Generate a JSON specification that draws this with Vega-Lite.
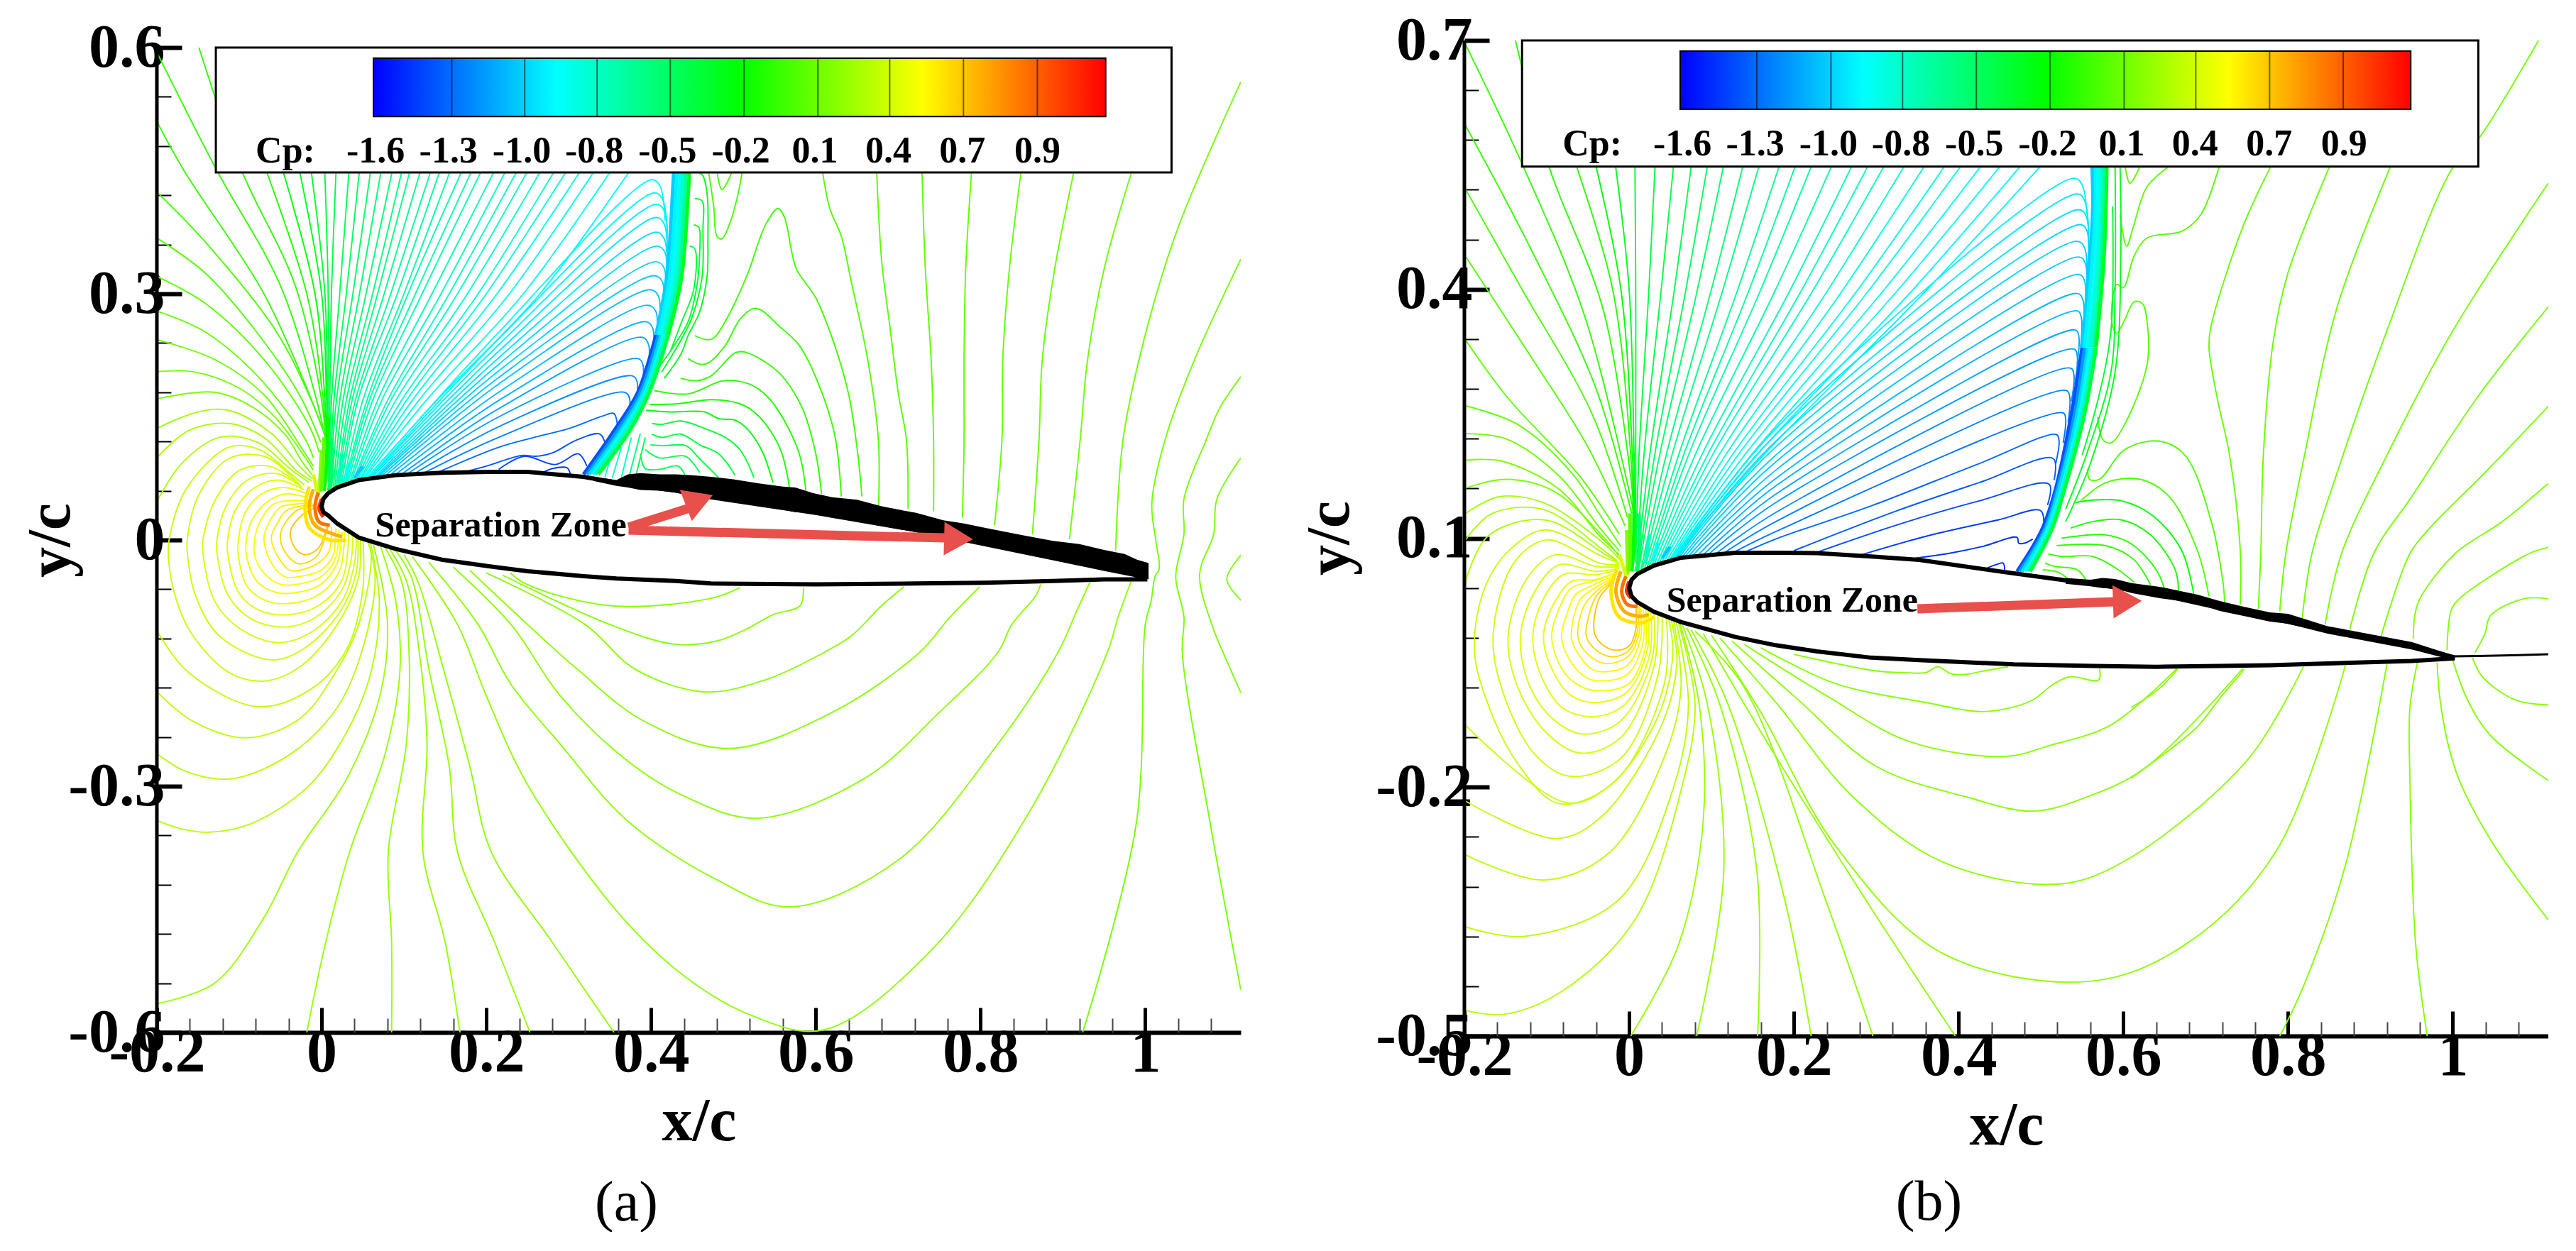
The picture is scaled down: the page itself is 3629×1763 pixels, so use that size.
{"$schema":"https://vega.github.io/schema/vega-lite/v6.json","background":"white","padding":{"left":28,"top":14,"right":0,"bottom":0},"bounds":"flush","spacing":315,
"config":{"view":{"stroke":null},"axis":{"labelFont":"Liberation Serif","labelFontWeight":"bold","labelFontSize":86,"labelColor":"black","titleFont":"Liberation Serif","titleFontWeight":"bold","titleFontSize":86,"titleColor":"black","grid":false,"labelOverlap":false,"labelBound":false,"labelFlush":false,"tickColor":"black","domainColor":"black"}},
"datasets":{
"legendA":[{"x":0.0655,"y":0.4738,"t":"-1.6"},{"x":0.154,"y":0.4738,"t":"-1.3"},{"x":0.243,"y":0.4738,"t":"-1.0"},{"x":0.331,"y":0.4738,"t":"-0.8"},{"x":0.42,"y":0.4738,"t":"-0.5"},{"x":0.509,"y":0.4738,"t":"-0.2"},{"x":0.599,"y":0.4738,"t":"0.1"},{"x":0.688,"y":0.4738,"t":"0.4"},{"x":0.778,"y":0.4738,"t":"0.7"},{"x":0.869,"y":0.4738,"t":"0.9"},{"x":-0.044,"y":0.4738,"t":"Cp:"}],
"legendB":[{"x":0.0647,"y":0.5751,"t":"-1.6"},{"x":0.153,"y":0.5751,"t":"-1.3"},{"x":0.242,"y":0.5751,"t":"-1.0"},{"x":0.33,"y":0.5751,"t":"-0.8"},{"x":0.419,"y":0.5751,"t":"-0.5"},{"x":0.508,"y":0.5751,"t":"-0.2"},{"x":0.598,"y":0.5751,"t":"0.1"},{"x":0.687,"y":0.5751,"t":"0.4"},{"x":0.777,"y":0.5751,"t":"0.7"},{"x":0.868,"y":0.5751,"t":"0.9"},{"x":-0.0448,"y":0.5751,"t":"Cp:"}],
"airfoilA":[{"x":0,"y":0.041,"y2":0.041},{"x":0.002,"y":0.05,"y2":0.034},{"x":0.008,"y":0.057,"y2":0.03},{"x":0.019,"y":0.064,"y2":0.02},{"x":0.045,"y":0.073,"y2":0.003},{"x":0.09,"y":0.079,"y2":-0.011},{"x":0.146,"y":0.082,"y2":-0.024},{"x":0.203,"y":0.083,"y2":-0.032},{"x":0.25,"y":0.083,"y2":-0.038},{"x":0.318,"y":0.077,"y2":-0.044},{"x":0.358,"y":0.07,"y2":-0.047},{"x":0.43,"y":0.06,"y2":-0.05},{"x":0.473,"y":0.052,"y2":-0.053},{"x":0.6,"y":0.033,"y2":-0.054},{"x":0.722,"y":0.012,"y2":-0.053},{"x":0.805,"y":-0.005,"y2":-0.052},{"x":0.888,"y":-0.022,"y2":-0.05},{"x":0.95,"y":-0.035,"y2":-0.048},{"x":1,"y":-0.045,"y2":-0.048}],
"bandA":[{"x":0.33,"y":0.077,"y2":0.072},{"x":0.358,"y":0.073,"y2":0.066},{"x":0.372,"y":0.08,"y2":0.064},{"x":0.387,"y":0.0815,"y2":0.061},{"x":0.41,"y":0.08,"y2":0.06},{"x":0.43,"y":0.08,"y2":0.058},{"x":0.45,"y":0.079,"y2":0.056},{"x":0.473,"y":0.077,"y2":0.051},{"x":0.5,"y":0.074,"y2":0.047},{"x":0.531,"y":0.069,"y2":0.041},{"x":0.56,"y":0.065,"y2":0.037},{"x":0.575,"y":0.064,"y2":0.034},{"x":0.597,"y":0.057,"y2":0.033},{"x":0.62,"y":0.052,"y2":0.027},{"x":0.65,"y":0.049,"y2":0.023},{"x":0.68,"y":0.041,"y2":0.017},{"x":0.722,"y":0.033,"y2":0.0095},{"x":0.755,"y":0.024,"y2":0.004},{"x":0.78,"y":0.02,"y2":0},{"x":0.805,"y":0.015,"y2":-0.005},{"x":0.85,"y":0.006,"y2":-0.014},{"x":0.888,"y":-0.001,"y2":-0.024},{"x":0.92,"y":-0.005,"y2":-0.03},{"x":0.95,"y":-0.012,"y2":-0.037},{"x":0.975,"y":-0.017,"y2":-0.041},{"x":0.99,"y":-0.024,"y2":-0.044},{"x":1.004,"y":-0.028,"y2":-0.048}],
"airfoilB":[{"x":0,"y":0.04,"y2":0.04},{"x":0.003,"y":0.05,"y2":0.03},{"x":0.01,"y":0.057,"y2":0.023},{"x":0.03,"y":0.067,"y2":0.0115},{"x":0.063,"y":0.0765,"y2":-0.001},{"x":0.129,"y":0.0825,"y2":-0.019},{"x":0.178,"y":0.0825,"y2":-0.029},{"x":0.228,"y":0.082,"y2":-0.0364},{"x":0.294,"y":0.078,"y2":-0.044},{"x":0.352,"y":0.0739,"y2":-0.047},{"x":0.467,"y":0.0576,"y2":-0.052},{"x":0.563,"y":0.0449,"y2":-0.054},{"x":0.64,"y":0.033,"y2":-0.055},{"x":0.717,"y":0.016,"y2":-0.054},{"x":0.778,"y":0.004,"y2":-0.053},{"x":0.848,"y":-0.011,"y2":-0.051},{"x":0.95,"y":-0.03,"y2":-0.048},{"x":1,"y":-0.043,"y2":-0.045}],
"bandB":[{"x":0.53,"y":0.052,"y2":0.045},{"x":0.56,"y":0.05,"y2":0.042},{"x":0.575,"y":0.052,"y2":0.04},{"x":0.59,"y":0.0508,"y2":0.0397},{"x":0.61,"y":0.046,"y2":0.034},{"x":0.644,"y":0.0415,"y2":0.0277},{"x":0.69,"y":0.032,"y2":0.0215},{"x":0.717,"y":0.0243,"y2":0.0123},{"x":0.746,"y":0.0175,"y2":0.0064},{"x":0.778,"y":0.0106,"y2":-0.0005},{"x":0.8,"y":0.009,"y2":-0.003},{"x":0.848,"y":-0.006,"y2":-0.015},{"x":0.95,"y":-0.025,"y2":-0.034},{"x":1,"y":-0.041,"y2":-0.047}],
"wakeB":[{"x":1,"y":-0.0425},{"x":1.03,"y":-0.042},{"x":1.08,"y":-0.041},{"x":1.116,"y":-0.0398}],
"shaftA":[{"v":1,"x":0.3727,"y":0.0156},{"v":1,"x":0.4446,"y":0.0383},{"v":2,"x":0.3727,"y":0.012},{"v":2,"x":0.757,"y":0.0025}],
"headA":[{"x":0.4586,"y":0.0484,"a":69},{"x":0.7733,"y":0.0013,"a":91.5}],
"shaftB":[{"v":1,"x":0.35,"y":0.0149},{"v":1,"x":0.59,"y":0.0235}],
"headB":[{"x":0.605,"y":0.024,"a":88}],
"shockA":[
{"v":-1.5,"x":0.318,"y":0.08},{"v":-1.5,"x":0.355,"y":0.133},{"v":-1.5,"x":0.384,"y":0.18},{"v":-1.5,"x":0.406,"y":0.25},
{"v":-1.3,"x":0.322,"y":0.08},{"v":-1.3,"x":0.359,"y":0.133},{"v":-1.3,"x":0.387,"y":0.18},{"v":-1.3,"x":0.409,"y":0.25},
{"v":-1.05,"x":0.325,"y":0.08},{"v":-1.05,"x":0.363,"y":0.133},{"v":-1.05,"x":0.39,"y":0.18},{"v":-1.05,"x":0.412,"y":0.25},
{"v":-0.86,"x":0.329,"y":0.08},{"v":-0.86,"x":0.366,"y":0.133},{"v":-0.86,"x":0.393,"y":0.18},{"v":-0.86,"x":0.415,"y":0.25},
{"v":-0.55,"x":0.332,"y":0.08},{"v":-0.55,"x":0.37,"y":0.133},{"v":-0.55,"x":0.395,"y":0.18},{"v":-0.55,"x":0.418,"y":0.25},
{"v":-0.25,"x":0.336,"y":0.08},{"v":-0.25,"x":0.374,"y":0.133},{"v":-0.25,"x":0.398,"y":0.18},{"v":-0.25,"x":0.421,"y":0.25},
{"v":-1.1,"x":0.406,"y":0.25},{"v":-1.1,"x":0.419,"y":0.32},{"v":-1.1,"x":0.426,"y":0.42},{"v":-1.1,"x":0.428,"y":0.46},
{"v":-0.95,"x":0.409,"y":0.25},{"v":-0.95,"x":0.4225,"y":0.32},{"v":-0.95,"x":0.43,"y":0.42},{"v":-0.95,"x":0.432,"y":0.46},
{"v":-0.85,"x":0.412,"y":0.25},{"v":-0.85,"x":0.426,"y":0.32},{"v":-0.85,"x":0.434,"y":0.42},{"v":-0.85,"x":0.436,"y":0.46},
{"v":-0.65,"x":0.415,"y":0.25},{"v":-0.65,"x":0.43,"y":0.32},{"v":-0.65,"x":0.437,"y":0.42},{"v":-0.65,"x":0.439,"y":0.46},
{"v":-0.45,"x":0.418,"y":0.25},{"v":-0.45,"x":0.4335,"y":0.32},{"v":-0.45,"x":0.441,"y":0.42},{"v":-0.45,"x":0.443,"y":0.46},
{"v":-0.22,"x":0.421,"y":0.25},{"v":-0.22,"x":0.437,"y":0.32},{"v":-0.22,"x":0.445,"y":0.42},{"v":-0.22,"x":0.447,"y":0.46},
{"v":-0.2,"x":0.008,"y":0.15},{"v":-0.2,"x":0.005,"y":0.08},{"v":-0.2,"x":0.003,"y":0.06},
{"v":0.0,"x":0,"y":0.11},{"v":0.0,"x":-0.002,"y":0.07},{"v":0.0,"x":-0.002,"y":0.058},
{"v":0.3,"x":-0.01,"y":0.08},{"v":0.3,"x":-0.006,"y":0.062},{"v":0.3,"x":-0.003,"y":0.052},
{"v":-0.1,"x":0.003,"y":0.125},{"v":-0.1,"x":0.001,"y":0.075},{"v":-0.1,"x":0,"y":0.06},
{"v":-0.35,"x":0.012,"y":0.125},{"v":-0.35,"x":0.012,"y":0.075},{"v":-0.35,"x":0.008,"y":0.06},
{"v":-0.6,"x":0.025,"y":0.105},{"v":-0.6,"x":0.02,"y":0.07},
{"v":-0.87,"x":0.035,"y":0.095},{"v":-0.87,"x":0.028,"y":0.072},
{"v":-1.12,"x":0.05,"y":0.09},{"v":-1.12,"x":0.04,"y":0.076},
{"v":0.6,"x":-0.015,"y":0.065},{"v":0.6,"x":-0.02,"y":0.04},{"v":0.6,"x":-0.015,"y":0.015},{"v":0.6,"x":0.01,"y":0},{"v":0.6,"x":0.03,"y":0},
{"v":0.8,"x":-0.01,"y":0.062},{"v":0.8,"x":-0.015,"y":0.04},{"v":0.8,"x":-0.008,"y":0.018},{"v":0.8,"x":0.012,"y":0.008},{"v":0.8,"x":0.025,"y":0.004},
{"v":1.0,"x":-0.004,"y":0.058},{"v":1.0,"x":-0.008,"y":0.04},{"v":1.0,"x":-0.003,"y":0.022},{"v":1.0,"x":0.01,"y":0.018},
{"v":1.15,"x":0,"y":0.05},{"v":1.15,"x":-0.003,"y":0.038},{"v":1.15,"x":0.002,"y":0.028}],
"shockB":[
{"v":-1.5,"x":0.471,"y":0.06},{"v":-1.5,"x":0.501,"y":0.11},{"v":-1.5,"x":0.518,"y":0.16},{"v":-1.5,"x":0.537,"y":0.25},{"v":-1.5,"x":0.55,"y":0.33},
{"v":-1.3,"x":0.474,"y":0.06},{"v":-1.3,"x":0.504,"y":0.11},{"v":-1.3,"x":0.52,"y":0.16},{"v":-1.3,"x":0.541,"y":0.25},{"v":-1.3,"x":0.553,"y":0.33},
{"v":-1.05,"x":0.477,"y":0.06},{"v":-1.05,"x":0.506,"y":0.11},{"v":-1.05,"x":0.522,"y":0.16},{"v":-1.05,"x":0.544,"y":0.25},{"v":-1.05,"x":0.557,"y":0.33},
{"v":-0.86,"x":0.481,"y":0.06},{"v":-0.86,"x":0.508,"y":0.11},{"v":-0.86,"x":0.525,"y":0.16},{"v":-0.86,"x":0.547,"y":0.25},{"v":-0.86,"x":0.56,"y":0.33},
{"v":-0.55,"x":0.484,"y":0.06},{"v":-0.55,"x":0.511,"y":0.11},{"v":-0.55,"x":0.527,"y":0.16},{"v":-0.55,"x":0.55,"y":0.25},{"v":-0.55,"x":0.564,"y":0.33},
{"v":-0.25,"x":0.487,"y":0.06},{"v":-0.25,"x":0.513,"y":0.11},{"v":-0.25,"x":0.529,"y":0.16},{"v":-0.25,"x":0.553,"y":0.25},{"v":-0.25,"x":0.567,"y":0.33},
{"v":-1.1,"x":0.55,"y":0.33},{"v":-1.1,"x":0.559,"y":0.43},{"v":-1.1,"x":0.563,"y":0.5},{"v":-1.1,"x":0.562,"y":0.55},
{"v":-0.95,"x":0.553,"y":0.33},{"v":-0.95,"x":0.562,"y":0.43},{"v":-0.95,"x":0.566,"y":0.5},{"v":-0.95,"x":0.566,"y":0.55},
{"v":-0.85,"x":0.557,"y":0.33},{"v":-0.85,"x":0.566,"y":0.43},{"v":-0.85,"x":0.569,"y":0.5},{"v":-0.85,"x":0.569,"y":0.55},
{"v":-0.65,"x":0.56,"y":0.33},{"v":-0.65,"x":0.569,"y":0.43},{"v":-0.65,"x":0.573,"y":0.5},{"v":-0.65,"x":0.573,"y":0.55},
{"v":-0.45,"x":0.564,"y":0.33},{"v":-0.45,"x":0.573,"y":0.43},{"v":-0.45,"x":0.576,"y":0.5},{"v":-0.45,"x":0.577,"y":0.55},
{"v":-0.22,"x":0.567,"y":0.33},{"v":-0.22,"x":0.576,"y":0.43},{"v":-0.22,"x":0.579,"y":0.5},{"v":-0.22,"x":0.58,"y":0.55},
{"v":-0.2,"x":0.006,"y":0.16},{"v":-0.2,"x":0.005,"y":0.08},{"v":-0.2,"x":0.003,"y":0.06},
{"v":0.0,"x":-0.003,"y":0.11},{"v":0.0,"x":-0.002,"y":0.07},{"v":0.0,"x":-0.002,"y":0.056},
{"v":0.3,"x":-0.012,"y":0.08},{"v":0.3,"x":-0.006,"y":0.062},{"v":0.3,"x":-0.003,"y":0.052},
{"v":-0.1,"x":0.001,"y":0.13},{"v":-0.1,"x":0.001,"y":0.075},{"v":-0.1,"x":0,"y":0.06},
{"v":-0.35,"x":0.012,"y":0.13},{"v":-0.35,"x":0.012,"y":0.075},{"v":-0.35,"x":0.008,"y":0.06},
{"v":-0.6,"x":0.025,"y":0.105},{"v":-0.6,"x":0.02,"y":0.07},
{"v":-0.87,"x":0.035,"y":0.095},{"v":-0.87,"x":0.028,"y":0.072},
{"v":-1.12,"x":0.05,"y":0.09},{"v":-1.12,"x":0.04,"y":0.076},
{"v":0.6,"x":-0.015,"y":0.062},{"v":0.6,"x":-0.022,"y":0.035},{"v":0.6,"x":-0.012,"y":0.005},{"v":0.6,"x":0.015,"y":-0.002},{"v":0.6,"x":0.03,"y":0.005},
{"v":0.8,"x":-0.01,"y":0.06},{"v":0.8,"x":-0.016,"y":0.035},{"v":0.8,"x":-0.006,"y":0.012},{"v":0.8,"x":0.012,"y":0.006},{"v":0.8,"x":0.024,"y":0.008},
{"v":1.0,"x":-0.004,"y":0.054},{"v":1.0,"x":-0.009,"y":0.035},{"v":1.0,"x":-0.002,"y":0.02},{"v":1.0,"x":0.01,"y":0.018},
{"v":1.15,"x":0,"y":0.048},{"v":1.15,"x":-0.003,"y":0.036},{"v":1.15,"x":0.002,"y":0.028}],
"a":[
{"v":-0.17,"x":-0.2,"y":0.594},{"v":-0.17,"x":-0.127,"y":0.45},{"v":-0.17,"x":-0.05,"y":0.31},{"v":-0.17,"x":-0.006,"y":0.17},{"v":-0.17,"x":0.004,"y":0.125},
{"v":-0.165,"x":-0.2,"y":0.51},{"v":-0.165,"x":-0.167,"y":0.45},{"v":-0.165,"x":-0.07,"y":0.3},{"v":-0.165,"x":-0.012,"y":0.17},{"v":-0.165,"x":0.003,"y":0.13},
{"v":-0.175,"x":-0.149,"y":0.6},{"v":-0.175,"x":-0.097,"y":0.45},{"v":-0.175,"x":-0.032,"y":0.31},{"v":-0.175,"x":0,"y":0.17},{"v":-0.175,"x":0.005,"y":0.12},
{"v":-0.14,"x":-0.2,"y":0.424},{"v":-0.14,"x":-0.142,"y":0.364},{"v":-0.14,"x":-0.055,"y":0.254},{"v":-0.14,"x":-0.009,"y":0.162},{"v":-0.14,"x":0.005,"y":0.125},
{"v":-0.12,"x":-0.2,"y":0.368},{"v":-0.12,"x":-0.142,"y":0.326},{"v":-0.12,"x":-0.084,"y":0.26},{"v":-0.12,"x":-0.027,"y":0.177},{"v":-0.12,"x":-0.001,"y":0.119},
{"v":-0.1,"x":-0.2,"y":0.321},{"v":-0.1,"x":-0.142,"y":0.289},{"v":-0.1,"x":-0.07,"y":0.22},{"v":-0.1,"x":-0.015,"y":0.139},{"v":-0.1,"x":-0.003,"y":0.107},
{"v":-0.08,"x":-0.2,"y":0.279},{"v":-0.08,"x":-0.142,"y":0.254},{"v":-0.08,"x":-0.078,"y":0.2},{"v":-0.08,"x":-0.021,"y":0.125},{"v":-0.08,"x":-0.01,"y":0.1},
{"v":-0.06,"x":-0.2,"y":0.244},{"v":-0.06,"x":-0.13,"y":0.22},{"v":-0.06,"x":-0.07,"y":0.177},{"v":-0.06,"x":-0.021,"y":0.107},{"v":-0.06,"x":-0.01,"y":0.09},
{"v":-0.04,"x":-0.2,"y":0.205},{"v":-0.04,"x":-0.156,"y":0.205},{"v":-0.04,"x":-0.1,"y":0.185},{"v":-0.04,"x":-0.055,"y":0.148},{"v":-0.04,"x":-0.021,"y":0.102},{"v":-0.04,"x":-0.01,"y":0.085},
{"v":-0.02,"x":-0.2,"y":0.172},{"v":-0.02,"x":-0.13,"y":0.18},{"v":-0.02,"x":-0.084,"y":0.162},{"v":-0.02,"x":-0.044,"y":0.128},{"v":-0.02,"x":-0.024,"y":0.096},{"v":-0.02,"x":-0.012,"y":0.08},
{"v":0.1,"x":-0.2,"y":0.136},{"v":0.1,"x":-0.15,"y":0.156},{"v":0.1,"x":-0.113,"y":0.158},{"v":0.1,"x":-0.061,"y":0.13},{"v":0.1,"x":-0.027,"y":0.09},{"v":0.1,"x":-0.012,"y":0.075},
{"v":0.12,"x":-0.2,"y":0.1},{"v":0.12,"x":-0.162,"y":0.133},{"v":0.12,"x":-0.113,"y":0.142},{"v":0.12,"x":-0.07,"y":0.125},{"v":0.12,"x":-0.03,"y":0.084},{"v":0.12,"x":-0.012,"y":0.072},
{"v":0.14,"x":-0.2,"y":0.047},{"v":0.14,"x":-0.17,"y":0.093},{"v":0.14,"x":-0.124,"y":0.125},{"v":0.14,"x":-0.078,"y":0.119},{"v":0.14,"x":-0.035,"y":0.084},{"v":0.14,"x":-0.015,"y":0.07},
{"v":-0.18,"x":-0.071,"y":0.46},{"v":-0.18,"x":-0.018,"y":0.3},{"v":-0.18,"x":0.002,"y":0.17},{"v":-0.18,"x":0.006,"y":0.11},
{"v":-0.2,"x":-0.05,"y":0.46},{"v":-0.2,"x":-0.008,"y":0.3},{"v":-0.2,"x":0.004,"y":0.17},{"v":-0.2,"x":0.007,"y":0.1},
{"v":-0.22,"x":-0.029,"y":0.46},{"v":-0.22,"x":0,"y":0.3},{"v":-0.22,"x":0.006,"y":0.17},{"v":-0.22,"x":0.008,"y":0.09},
{"v":-0.24,"x":-0.014,"y":0.46},{"v":-0.24,"x":0.004,"y":0.3},{"v":-0.24,"x":0.007,"y":0.17},{"v":-0.24,"x":0.008,"y":0.08},
{"v":-0.26,"x":0.0035,"y":0.46},{"v":-0.26,"x":0.008,"y":0.3},{"v":-0.26,"x":0.008,"y":0.17},{"v":-0.26,"x":0.008,"y":0.07},
{"v":-0.28,"x":0.018,"y":0.46},{"v":-0.28,"x":0.012,"y":0.3},{"v":-0.28,"x":0.01,"y":0.17},{"v":-0.28,"x":0.009,"y":0.065},
{"v":-0.3,"x":0.034,"y":0.46},{"v":-0.3,"x":0.022,"y":0.3},{"v":-0.3,"x":0.012,"y":0.17},{"v":-0.3,"x":0.009,"y":0.06},
{"v":-0.32,"x":0.047,"y":0.46},{"v":-0.32,"x":0.03,"y":0.3},{"v":-0.32,"x":0.015,"y":0.17},{"v":-0.32,"x":0.01,"y":0.058},
{"v":-0.34,"x":0.061,"y":0.46},{"v":-0.34,"x":0.038,"y":0.3},{"v":-0.34,"x":0.018,"y":0.17},{"v":-0.34,"x":0.01,"y":0.058},
{"v":-0.36,"x":0.074,"y":0.46},{"v":-0.36,"x":0.046,"y":0.3},{"v":-0.36,"x":0.022,"y":0.17},{"v":-0.36,"x":0.012,"y":0.06},
{"v":-0.38,"x":0.088,"y":0.46},{"v":-0.38,"x":0.054,"y":0.3},{"v":-0.38,"x":0.026,"y":0.17},{"v":-0.38,"x":0.014,"y":0.06},
{"v":-0.4,"x":0.1,"y":0.46},{"v":-0.4,"x":0.062,"y":0.3},{"v":-0.4,"x":0.03,"y":0.17},{"v":-0.4,"x":0.016,"y":0.062},
{"v":-0.42,"x":0.11,"y":0.46},{"v":-0.42,"x":0.068,"y":0.3},{"v":-0.42,"x":0.034,"y":0.17},{"v":-0.42,"x":0.018,"y":0.063},
{"v":-0.44,"x":0.123,"y":0.46},{"v":-0.44,"x":0.076,"y":0.3},{"v":-0.44,"x":0.037,"y":0.17},{"v":-0.44,"x":0.02,"y":0.064},
{"v":-0.46,"x":0.136,"y":0.46},{"v":-0.46,"x":0.084,"y":0.3},{"v":-0.46,"x":0.041,"y":0.17},{"v":-0.46,"x":0.022,"y":0.065},
{"v":-0.48,"x":0.147,"y":0.46},{"v":-0.48,"x":0.092,"y":0.3},{"v":-0.48,"x":0.044,"y":0.17},{"v":-0.48,"x":0.024,"y":0.066},
{"v":-0.5,"x":0.16,"y":0.46},{"v":-0.5,"x":0.1,"y":0.3},{"v":-0.5,"x":0.05,"y":0.17},{"v":-0.5,"x":0.026,"y":0.067},
{"v":-0.52,"x":0.175,"y":0.46},{"v":-0.52,"x":0.105,"y":0.3},{"v":-0.52,"x":0.055,"y":0.17},{"v":-0.52,"x":0.028,"y":0.068},
{"v":-0.54,"x":0.187,"y":0.46},{"v":-0.54,"x":0.114,"y":0.3},{"v":-0.54,"x":0.058,"y":0.17},{"v":-0.54,"x":0.03,"y":0.069},
{"v":-0.56,"x":0.199,"y":0.46},{"v":-0.56,"x":0.122,"y":0.3},{"v":-0.56,"x":0.062,"y":0.17},{"v":-0.56,"x":0.032,"y":0.07},
{"v":-0.58,"x":0.215,"y":0.46},{"v":-0.58,"x":0.134,"y":0.3},{"v":-0.58,"x":0.068,"y":0.17},{"v":-0.58,"x":0.034,"y":0.07},
{"v":-0.6,"x":0.229,"y":0.46},{"v":-0.6,"x":0.145,"y":0.3},{"v":-0.6,"x":0.073,"y":0.17},{"v":-0.6,"x":0.036,"y":0.071},
{"v":-0.62,"x":0.243,"y":0.46},{"v":-0.62,"x":0.155,"y":0.3},{"v":-0.62,"x":0.08,"y":0.17},{"v":-0.62,"x":0.038,"y":0.071},
{"v":-0.64,"x":0.256,"y":0.46},{"v":-0.64,"x":0.165,"y":0.3},{"v":-0.64,"x":0.084,"y":0.17},{"v":-0.64,"x":0.04,"y":0.072},
{"v":-0.66,"x":0.272,"y":0.46},{"v":-0.66,"x":0.177,"y":0.3},{"v":-0.66,"x":0.09,"y":0.17},{"v":-0.66,"x":0.042,"y":0.072},
{"v":-0.69,"x":0.289,"y":0.46},{"v":-0.69,"x":0.19,"y":0.3},{"v":-0.69,"x":0.097,"y":0.17},{"v":-0.69,"x":0.044,"y":0.073},
{"v":-0.72,"x":0.304,"y":0.46},{"v":-0.72,"x":0.2,"y":0.3},{"v":-0.72,"x":0.103,"y":0.17},{"v":-0.72,"x":0.046,"y":0.073},
{"v":-0.75,"x":0.321,"y":0.46},{"v":-0.75,"x":0.213,"y":0.3},{"v":-0.75,"x":0.11,"y":0.17},{"v":-0.75,"x":0.048,"y":0.074},
{"v":-0.78,"x":0.338,"y":0.46},{"v":-0.78,"x":0.228,"y":0.3},{"v":-0.78,"x":0.118,"y":0.17},{"v":-0.78,"x":0.05,"y":0.074},
{"v":-0.82,"x":0.358,"y":0.46},{"v":-0.82,"x":0.245,"y":0.3},{"v":-0.82,"x":0.127,"y":0.17},{"v":-0.82,"x":0.052,"y":0.075},
{"v":-0.86,"x":0.381,"y":0.46},{"v":-0.86,"x":0.265,"y":0.3},{"v":-0.86,"x":0.14,"y":0.17},{"v":-0.86,"x":0.054,"y":0.075},
{"v":-0.9,"x":0.056,"y":0.076},{"v":-0.9,"x":0.215,"y":0.253},{"v":-0.9,"x":0.401,"y":0.439},{"v":-0.9,"x":0.411,"y":0.431},{"v":-0.9,"x":0.417,"y":0.389},
{"v":-0.93,"x":0.058,"y":0.076},{"v":-0.93,"x":0.215,"y":0.245},{"v":-0.93,"x":0.404,"y":0.423},{"v":-0.93,"x":0.414,"y":0.415},{"v":-0.93,"x":0.42,"y":0.373},
{"v":-0.96,"x":0.06,"y":0.077},{"v":-0.96,"x":0.215,"y":0.238},{"v":-0.96,"x":0.406,"y":0.409},{"v":-0.96,"x":0.416,"y":0.401},{"v":-0.96,"x":0.42,"y":0.359},
{"v":-0.99,"x":0.062,"y":0.077},{"v":-0.99,"x":0.215,"y":0.23},{"v":-0.99,"x":0.406,"y":0.393},{"v":-0.99,"x":0.416,"y":0.385},{"v":-0.99,"x":0.42,"y":0.343},
{"v":-1.02,"x":0.065,"y":0.077},{"v":-1.02,"x":0.215,"y":0.222},{"v":-1.02,"x":0.406,"y":0.375},{"v":-1.02,"x":0.416,"y":0.367},{"v":-1.02,"x":0.42,"y":0.325},
{"v":-1.05,"x":0.068,"y":0.078},{"v":-1.05,"x":0.215,"y":0.214},{"v":-1.05,"x":0.407,"y":0.358},{"v":-1.05,"x":0.417,"y":0.35},{"v":-1.05,"x":0.418,"y":0.308},
{"v":-1.08,"x":0.07,"y":0.078},{"v":-1.08,"x":0.215,"y":0.206},{"v":-1.08,"x":0.406,"y":0.339},{"v":-1.08,"x":0.416,"y":0.331},{"v":-1.08,"x":0.416,"y":0.289},
{"v":-1.11,"x":0.073,"y":0.078},{"v":-1.11,"x":0.215,"y":0.198},{"v":-1.11,"x":0.404,"y":0.322},{"v":-1.11,"x":0.414,"y":0.314},{"v":-1.11,"x":0.414,"y":0.272},
{"v":-1.14,"x":0.078,"y":0.079},{"v":-1.14,"x":0.215,"y":0.19},{"v":-1.14,"x":0.399,"y":0.305},{"v":-1.14,"x":0.409,"y":0.297},{"v":-1.14,"x":0.41,"y":0.255},
{"v":-1.17,"x":0.083,"y":0.079},{"v":-1.17,"x":0.215,"y":0.18},{"v":-1.17,"x":0.396,"y":0.286},{"v":-1.17,"x":0.406,"y":0.278},{"v":-1.17,"x":0.406,"y":0.24},
{"v":-1.2,"x":0.09,"y":0.08},{"v":-1.2,"x":0.215,"y":0.17},{"v":-1.2,"x":0.394,"y":0.266},{"v":-1.2,"x":0.402,"y":0.258},{"v":-1.2,"x":0.402,"y":0.226},
{"v":-1.24,"x":0.097,"y":0.08},{"v":-1.24,"x":0.215,"y":0.16},{"v":-1.24,"x":0.389,"y":0.247},{"v":-1.24,"x":0.397,"y":0.238},{"v":-1.24,"x":0.396,"y":0.205},
{"v":-1.28,"x":0.105,"y":0.081},{"v":-1.28,"x":0.215,"y":0.15},{"v":-1.28,"x":0.384,"y":0.221},{"v":-1.28,"x":0.39,"y":0.214},{"v":-1.28,"x":0.389,"y":0.185},
{"v":-1.32,"x":0.113,"y":0.081},{"v":-1.32,"x":0.215,"y":0.138},{"v":-1.32,"x":0.377,"y":0.2},{"v":-1.32,"x":0.383,"y":0.193},{"v":-1.32,"x":0.382,"y":0.17},
{"v":-1.37,"x":0.125,"y":0.082},{"v":-1.37,"x":0.215,"y":0.125},{"v":-1.37,"x":0.368,"y":0.18},{"v":-1.37,"x":0.374,"y":0.172},{"v":-1.37,"x":0.372,"y":0.15},
{"v":-1.43,"x":0.14,"y":0.082},{"v":-1.43,"x":0.215,"y":0.113},{"v":-1.43,"x":0.258,"y":0.125},{"v":-1.43,"x":0.301,"y":0.136},{"v":-1.43,"x":0.341,"y":0.151},{"v":-1.43,"x":0.355,"y":0.154},{"v":-1.43,"x":0.36,"y":0.13},
{"v":-1.5,"x":0.17,"y":0.082},{"v":-1.5,"x":0.2,"y":0.09},{"v":-1.5,"x":0.243,"y":0.103},{"v":-1.5,"x":0.26,"y":0.102},{"v":-1.5,"x":0.28,"y":0.106},{"v":-1.5,"x":0.31,"y":0.122},{"v":-1.5,"x":0.338,"y":0.129},{"v":-1.5,"x":0.345,"y":0.115},
{"v":-1.53,"x":0.215,"y":0.086},{"v":-1.53,"x":0.246,"y":0.102},{"v":-1.53,"x":0.284,"y":0.092},{"v":-1.53,"x":0.312,"y":0.105},{"v":-1.53,"x":0.322,"y":0.09},
{"v":-1.56,"x":0.27,"y":0.083},{"v":-1.56,"x":0.28,"y":0.087},{"v":-1.56,"x":0.298,"y":0.088},{"v":-1.56,"x":0.302,"y":0.08},
{"v":-0.201,"x":0.394,"y":0.158},{"v":-0.201,"x":0.422,"y":0.156},{"v":-0.201,"x":0.465,"y":0.156},{"v":-0.201,"x":0.482,"y":0.148},{"v":-0.201,"x":0.502,"y":0.146},{"v":-0.201,"x":0.516,"y":0.136},{"v":-0.201,"x":0.534,"y":0.11},{"v":-0.201,"x":0.548,"y":0.07},
{"v":-0.191,"x":0.398,"y":0.165},{"v":-0.191,"x":0.433,"y":0.166},{"v":-0.191,"x":0.473,"y":0.171},{"v":-0.191,"x":0.508,"y":0.166},{"v":-0.191,"x":0.525,"y":0.156},{"v":-0.191,"x":0.545,"y":0.133},{"v":-0.191,"x":0.559,"y":0.105},{"v":-0.191,"x":0.568,"y":0.064},
{"v":-0.181,"x":0.404,"y":0.182},{"v":-0.181,"x":0.445,"y":0.178},{"v":-0.181,"x":0.488,"y":0.194},{"v":-0.181,"x":0.519,"y":0.19},{"v":-0.181,"x":0.542,"y":0.174},{"v":-0.181,"x":0.562,"y":0.145},{"v":-0.181,"x":0.58,"y":0.105},{"v":-0.181,"x":0.588,"y":0.06},
{"v":-0.171,"x":0.436,"y":0.197},{"v":-0.171,"x":0.456,"y":0.194},{"v":-0.171,"x":0.473,"y":0.2},{"v":-0.171,"x":0.502,"y":0.228},{"v":-0.171,"x":0.514,"y":0.229},{"v":-0.171,"x":0.554,"y":0.205},{"v":-0.171,"x":0.583,"y":0.162},{"v":-0.171,"x":0.6,"y":0.105},{"v":-0.171,"x":0.607,"y":0.056},
{"v":-0.161,"x":0.445,"y":0.221},{"v":-0.161,"x":0.46,"y":0.214},{"v":-0.161,"x":0.47,"y":0.216},{"v":-0.161,"x":0.49,"y":0.237},{"v":-0.161,"x":0.508,"y":0.269},{"v":-0.161,"x":0.524,"y":0.282},{"v":-0.161,"x":0.534,"y":0.28},{"v":-0.161,"x":0.554,"y":0.262},{"v":-0.161,"x":0.58,"y":0.237},{"v":-0.161,"x":0.603,"y":0.191},{"v":-0.161,"x":0.623,"y":0.128},{"v":-0.161,"x":0.631,"y":0.053},
{"v":-0.151,"x":0.453,"y":0.249},{"v":-0.151,"x":0.468,"y":0.244},{"v":-0.151,"x":0.476,"y":0.246},{"v":-0.151,"x":0.49,"y":0.266},{"v":-0.151,"x":0.516,"y":0.321},{"v":-0.151,"x":0.539,"y":0.384},{"v":-0.151,"x":0.554,"y":0.404},{"v":-0.151,"x":0.562,"y":0.393},{"v":-0.151,"x":0.571,"y":0.35},{"v":-0.151,"x":0.577,"y":0.329},{"v":-0.151,"x":0.6,"y":0.295},{"v":-0.151,"x":0.623,"y":0.237},{"v":-0.151,"x":0.64,"y":0.177},{"v":-0.151,"x":0.651,"y":0.105},{"v":-0.151,"x":0.656,"y":0.053},
{"v":-0.141,"x":0.47,"y":0.447},{"v":-0.141,"x":0.476,"y":0.407},{"v":-0.141,"x":0.48,"y":0.37},{"v":-0.141,"x":0.486,"y":0.367},{"v":-0.141,"x":0.496,"y":0.387},{"v":-0.141,"x":0.505,"y":0.419},{"v":-0.141,"x":0.511,"y":0.45},
{"v":-0.131,"x":0.48,"y":0.45},{"v":-0.131,"x":0.486,"y":0.427},{"v":-0.131,"x":0.499,"y":0.45},
{"v":-0.121,"x":0.608,"y":0.45},{"v":-0.121,"x":0.617,"y":0.404},{"v":-0.121,"x":0.631,"y":0.37},{"v":-0.121,"x":0.643,"y":0.315},{"v":-0.121,"x":0.663,"y":0.22},{"v":-0.121,"x":0.676,"y":0.122},{"v":-0.121,"x":0.676,"y":0.035},
{"v":-0.211,"x":0.45,"y":0.45},{"v":-0.211,"x":0.462,"y":0.445},{"v":-0.211,"x":0.468,"y":0.422},{"v":-0.211,"x":0.469,"y":0.364},{"v":-0.211,"x":0.468,"y":0.321},{"v":-0.211,"x":0.459,"y":0.278},{"v":-0.211,"x":0.445,"y":0.249},{"v":-0.211,"x":0.436,"y":0.226},{"v":-0.211,"x":0.416,"y":0.197},
{"v":-0.221,"x":0.453,"y":0.416},{"v":-0.221,"x":0.462,"y":0.413},{"v":-0.221,"x":0.463,"y":0.378},{"v":-0.221,"x":0.462,"y":0.321},{"v":-0.221,"x":0.45,"y":0.272},{"v":-0.221,"x":0.436,"y":0.243},{"v":-0.221,"x":0.413,"y":0.205},
{"v":-0.231,"x":0.452,"y":0.384},{"v":-0.231,"x":0.458,"y":0.381},{"v":-0.231,"x":0.459,"y":0.35},{"v":-0.231,"x":0.456,"y":0.312},{"v":-0.231,"x":0.445,"y":0.266},{"v":-0.231,"x":0.43,"y":0.24},{"v":-0.231,"x":0.41,"y":0.211},
{"v":-0.241,"x":0.447,"y":0.358},{"v":-0.241,"x":0.453,"y":0.355},{"v":-0.241,"x":0.452,"y":0.306},{"v":-0.241,"x":0.436,"y":0.263},{"v":-0.241,"x":0.424,"y":0.231},
{"v":-0.251,"x":0.401,"y":0.142},{"v":-0.251,"x":0.413,"y":0.141},{"v":-0.251,"x":0.436,"y":0.145},{"v":-0.251,"x":0.465,"y":0.136},{"v":-0.251,"x":0.49,"y":0.125},{"v":-0.251,"x":0.508,"y":0.11},{"v":-0.251,"x":0.525,"y":0.076},
{"v":-0.261,"x":0.401,"y":0.129},{"v":-0.261,"x":0.413,"y":0.125},{"v":-0.261,"x":0.436,"y":0.129},{"v":-0.261,"x":0.459,"y":0.116},{"v":-0.261,"x":0.482,"y":0.105},{"v":-0.261,"x":0.502,"y":0.079},
{"v":-0.271,"x":0.399,"y":0.116},{"v":-0.271,"x":0.416,"y":0.115},{"v":-0.271,"x":0.442,"y":0.115},{"v":-0.271,"x":0.459,"y":0.099},{"v":-0.271,"x":0.482,"y":0.076},
{"v":-0.281,"x":0.393,"y":0.11},{"v":-0.281,"x":0.41,"y":0.1},{"v":-0.281,"x":0.442,"y":0.102},{"v":-0.281,"x":0.459,"y":0.082},
{"v":-0.291,"x":0.387,"y":0.105},{"v":-0.291,"x":0.393,"y":0.087},{"v":-0.291,"x":0.41,"y":0.086},{"v":-0.291,"x":0.433,"y":0.09},{"v":-0.291,"x":0.442,"y":0.077},
{"v":-0.801,"x":0.344,"y":0.076},{"v":-0.801,"x":0.352,"y":0.105},
{"v":-0.701,"x":0.353,"y":0.076},{"v":-0.701,"x":0.364,"y":0.113},
{"v":-0.601,"x":0.364,"y":0.076},{"v":-0.601,"x":0.376,"y":0.125},
{"v":-0.401,"x":0.373,"y":0.076},{"v":-0.401,"x":0.387,"y":0.13},
{"v":-0.301,"x":0.381,"y":0.076},{"v":-0.301,"x":0.393,"y":0.125},
{"v":-0.111,"x":0.674,"y":0.447},{"v":-0.111,"x":0.68,"y":0.34},{"v":-0.111,"x":0.69,"y":0.26},{"v":-0.111,"x":0.7,"y":0.18},{"v":-0.111,"x":0.71,"y":0.122},{"v":-0.111,"x":0.712,"y":0.038},
{"v":-0.101,"x":0.729,"y":0.447},{"v":-0.101,"x":0.733,"y":0.33},{"v":-0.101,"x":0.74,"y":0.22},{"v":-0.101,"x":0.743,"y":0.122},{"v":-0.101,"x":0.743,"y":0.035},
{"v":-0.091,"x":0.789,"y":0.447},{"v":-0.091,"x":0.782,"y":0.33},{"v":-0.091,"x":0.78,"y":0.22},{"v":-0.091,"x":0.78,"y":0.122},{"v":-0.091,"x":0.778,"y":0.027},
{"v":-0.081,"x":0.849,"y":0.447},{"v":-0.081,"x":0.835,"y":0.33},{"v":-0.081,"x":0.827,"y":0.22},{"v":-0.081,"x":0.826,"y":0.122},{"v":-0.081,"x":0.817,"y":0.018},
{"v":-0.071,"x":0.913,"y":0.447},{"v":-0.071,"x":0.89,"y":0.33},{"v":-0.071,"x":0.875,"y":0.22},{"v":-0.071,"x":0.871,"y":0.122},{"v":-0.071,"x":0.863,"y":0.007},
{"v":-0.061,"x":0.983,"y":0.447},{"v":-0.061,"x":0.95,"y":0.33},{"v":-0.061,"x":0.93,"y":0.22},{"v":-0.061,"x":0.921,"y":0.122},{"v":-0.061,"x":0.908,"y":0.001},
{"v":-0.051,"x":1.116,"y":0.558},{"v":-0.051,"x":1.04,"y":0.381},{"v":-0.051,"x":1,"y":0.25},{"v":-0.051,"x":0.973,"y":0.122},{"v":-0.051,"x":0.964,"y":-0.013},
{"v":-0.041,"x":1.116,"y":0.342},{"v":-0.041,"x":1.06,"y":0.22},{"v":-0.041,"x":1.024,"y":0.122},{"v":-0.041,"x":1.008,"y":0.045},{"v":-0.041,"x":1.013,"y":-0.002},{"v":-0.041,"x":1.017,"y":-0.035},{"v":-0.041,"x":1.012,"y":-0.044},{"v":-0.041,"x":1.007,"y":-0.075},{"v":-0.041,"x":1,"y":-0.103},{"v":-0.041,"x":0.989,"y":-0.346},{"v":-0.041,"x":0.924,"y":-0.6},
{"v":-0.031,"x":1.116,"y":0.199},{"v":-0.031,"x":1.09,"y":0.16},{"v":-0.031,"x":1.074,"y":0.122},{"v":-0.031,"x":1.047,"y":0.05},{"v":-0.031,"x":1.047,"y":0.007},{"v":-0.031,"x":1.037,"y":-0.045},{"v":-0.031,"x":1.047,"y":-0.094},{"v":-0.031,"x":1.045,"y":-0.137},{"v":-0.031,"x":1.079,"y":-0.346},{"v":-0.031,"x":1.116,"y":-0.548},
{"v":-0.021,"x":1.116,"y":0.1},{"v":-0.021,"x":1.087,"y":0.05},{"v":-0.021,"x":1.083,"y":0.007},{"v":-0.021,"x":1.066,"y":-0.042},{"v":-0.021,"x":1.083,"y":-0.109},{"v":-0.021,"x":1.095,"y":-0.138},{"v":-0.021,"x":1.116,"y":-0.186},
{"v":-0.011,"x":1.12,"y":-0.014},{"v":-0.011,"x":1.099,"y":-0.048},{"v":-0.011,"x":1.12,"y":-0.077},
{"v":0.01,"x":0.229,"y":-0.04},{"v":0.01,"x":0.249,"y":-0.054},{"v":0.01,"x":0.35,"y":-0.08},{"v":0.01,"x":0.473,"y":-0.071},{"v":0.01,"x":0.508,"y":-0.058},
{"v":0.015,"x":0.22,"y":-0.043},{"v":0.015,"x":0.35,"y":-0.103},{"v":0.015,"x":0.429,"y":-0.127},{"v":0.015,"x":0.48,"y":-0.123},{"v":0.015,"x":0.515,"y":-0.109},{"v":0.015,"x":0.548,"y":-0.091},{"v":0.015,"x":0.581,"y":-0.08},{"v":0.015,"x":0.585,"y":-0.058},
{"v":0.02,"x":0.2,"y":-0.04},{"v":0.02,"x":0.32,"y":-0.103},{"v":0.02,"x":0.38,"y":-0.157},{"v":0.02,"x":0.464,"y":-0.185},{"v":0.02,"x":0.54,"y":-0.17},{"v":0.02,"x":0.61,"y":-0.137},{"v":0.02,"x":0.643,"y":-0.117},{"v":0.02,"x":0.68,"y":-0.08},{"v":0.02,"x":0.707,"y":-0.057},
{"v":0.025,"x":0.18,"y":-0.037},{"v":0.025,"x":0.25,"y":-0.103},{"v":0.025,"x":0.31,"y":-0.157},{"v":0.025,"x":0.39,"y":-0.22},{"v":0.025,"x":0.494,"y":-0.254},{"v":0.025,"x":0.62,"y":-0.21},{"v":0.025,"x":0.726,"y":-0.137},{"v":0.025,"x":0.763,"y":-0.094},{"v":0.025,"x":0.799,"y":-0.057},
{"v":0.03,"x":0.16,"y":-0.033},{"v":0.03,"x":0.23,"y":-0.103},{"v":0.03,"x":0.29,"y":-0.19},{"v":0.03,"x":0.37,"y":-0.268},{"v":0.03,"x":0.44,"y":-0.312},{"v":0.03,"x":0.529,"y":-0.339},{"v":0.03,"x":0.66,"y":-0.29},{"v":0.03,"x":0.75,"y":-0.21},{"v":0.03,"x":0.821,"y":-0.137},{"v":0.03,"x":0.838,"y":-0.103},{"v":0.03,"x":0.867,"y":-0.068},{"v":0.03,"x":0.873,"y":-0.054},
{"v":0.035,"x":0.13,"y":-0.027},{"v":0.035,"x":0.19,"y":-0.103},{"v":0.035,"x":0.23,"y":-0.176},{"v":0.035,"x":0.29,"y":-0.249},{"v":0.035,"x":0.37,"y":-0.341},{"v":0.035,"x":0.48,"y":-0.414},{"v":0.035,"x":0.569,"y":-0.447},{"v":0.035,"x":0.7,"y":-0.39},{"v":0.035,"x":0.82,"y":-0.25},{"v":0.035,"x":0.894,"y":-0.137},{"v":0.035,"x":0.917,"y":-0.086},{"v":0.035,"x":0.933,"y":-0.051},
{"v":0.04,"x":0.11,"y":-0.02},{"v":0.04,"x":0.165,"y":-0.103},{"v":0.04,"x":0.2,"y":-0.19},{"v":0.04,"x":0.25,"y":-0.298},{"v":0.04,"x":0.36,"y":-0.454},{"v":0.04,"x":0.44,"y":-0.531},{"v":0.04,"x":0.519,"y":-0.578},{"v":0.04,"x":0.609,"y":-0.597},{"v":0.04,"x":0.74,"y":-0.5},{"v":0.04,"x":0.86,"y":-0.33},{"v":0.04,"x":0.954,"y":-0.137},{"v":0.04,"x":0.967,"y":-0.094},{"v":0.04,"x":0.983,"y":-0.05},
{"v":0.045,"x":0.355,"y":-0.6},{"v":0.045,"x":0.28,"y":-0.49},{"v":0.045,"x":0.206,"y":-0.38},{"v":0.045,"x":0.18,"y":-0.276},{"v":0.045,"x":0.149,"y":-0.161},{"v":0.045,"x":0.117,"y":-0.051},{"v":0.045,"x":0.1,"y":-0.018},
{"v":0.05,"x":0.253,"y":-0.6},{"v":0.05,"x":0.21,"y":-0.49},{"v":0.05,"x":0.165,"y":-0.38},{"v":0.05,"x":0.155,"y":-0.276},{"v":0.05,"x":0.131,"y":-0.161},{"v":0.05,"x":0.109,"y":-0.045},{"v":0.05,"x":0.09,"y":-0.013},
{"v":0.055,"x":0.168,"y":-0.6},{"v":0.055,"x":0.15,"y":-0.49},{"v":0.055,"x":0.123,"y":-0.38},{"v":0.055,"x":0.128,"y":-0.247},{"v":0.055,"x":0.118,"y":-0.132},{"v":0.055,"x":0.103,"y":-0.05},{"v":0.055,"x":0.082,"y":-0.01},
{"v":0.06,"x":0.085,"y":-0.6},{"v":0.06,"x":0.085,"y":-0.49},{"v":0.06,"x":0.081,"y":-0.38},{"v":0.06,"x":0.103,"y":-0.247},{"v":0.06,"x":0.106,"y":-0.132},{"v":0.06,"x":0.097,"y":-0.05},{"v":0.06,"x":0.075,"y":-0.006},
{"v":0.065,"x":-0.018,"y":-0.6},{"v":0.065,"x":0.005,"y":-0.49},{"v":0.065,"x":0.034,"y":-0.38},{"v":0.065,"x":0.077,"y":-0.261},{"v":0.065,"x":0.095,"y":-0.161},{"v":0.065,"x":0.09,"y":-0.074},{"v":0.065,"x":0.07,"y":-0.003},
{"v":0.075,"x":-0.2,"y":-0.565},{"v":0.075,"x":-0.13,"y":-0.54},{"v":0.075,"x":-0.07,"y":-0.46},{"v":0.075,"x":-0.029,"y":-0.38},{"v":0.075,"x":0.031,"y":-0.29},{"v":0.075,"x":0.071,"y":-0.189},{"v":0.075,"x":0.08,"y":-0.1},{"v":0.075,"x":0.062,"y":-0.002},
{"v":0.16,"x":-0.199,"y":-0.342},{"v":0.16,"x":-0.17,"y":-0.352},{"v":0.16,"x":-0.137,"y":-0.356},{"v":0.16,"x":-0.084,"y":-0.345},{"v":0.16,"x":-0.015,"y":-0.299},{"v":0.16,"x":0.031,"y":-0.233},{"v":0.16,"x":0.06,"y":-0.161},{"v":0.16,"x":0.07,"y":-0.074},{"v":0.16,"x":0.058,"y":0.003},
{"v":0.18,"x":-0.199,"y":-0.261},{"v":0.18,"x":-0.165,"y":-0.282},{"v":0.18,"x":-0.11,"y":-0.291},{"v":0.18,"x":-0.038,"y":-0.261},{"v":0.18,"x":0.019,"y":-0.204},{"v":0.18,"x":0.05,"y":-0.132},{"v":0.18,"x":0.065,"y":-0.045},{"v":0.18,"x":0.055,"y":0.003},
{"v":0.2,"x":-0.199,"y":-0.186},{"v":0.2,"x":-0.156,"y":-0.221},{"v":0.2,"x":-0.091,"y":-0.241},{"v":0.2,"x":-0.027,"y":-0.218},{"v":0.2,"x":0.017,"y":-0.161},{"v":0.2,"x":0.045,"y":-0.103},{"v":0.2,"x":0.06,"y":-0.016},{"v":0.2,"x":0.052,"y":0.004},
{"v":0.22,"x":-0.199,"y":-0.112},{"v":0.22,"x":-0.162,"y":-0.161},{"v":0.22,"x":-0.078,"y":-0.203},{"v":0.22,"x":-0.012,"y":-0.181},{"v":0.22,"x":0.031,"y":-0.132},{"v":0.22,"x":0.05,"y":-0.06},{"v":0.22,"x":0.05,"y":0.005},
{"v":0.24,"x":-0.021,"y":0.067},{"v":0.24,"x":-0.038,"y":0.081},{"v":0.24,"x":-0.075,"y":0.11},{"v":0.24,"x":-0.113,"y":0.113},{"v":0.24,"x":-0.165,"y":0.061},{"v":0.24,"x":-0.185,"y":0.001},{"v":0.24,"x":-0.186,"y":-0.022},{"v":0.24,"x":-0.176,"y":-0.074},{"v":0.24,"x":-0.156,"y":-0.117},{"v":0.24,"x":-0.113,"y":-0.161},{"v":0.24,"x":-0.071,"y":-0.172},{"v":0.24,"x":-0.027,"y":-0.155},{"v":0.24,"x":0.019,"y":-0.103},{"v":0.24,"x":0.045,"y":-0.045},{"v":0.24,"x":0.047,"y":0.006},
{"v":0.27,"x":-0.024,"y":0.064},{"v":0.27,"x":-0.035,"y":0.076},{"v":0.27,"x":-0.07,"y":0.102},{"v":0.27,"x":-0.113,"y":0.099},{"v":0.27,"x":-0.15,"y":0.053},{"v":0.27,"x":-0.163,"y":0.001},{"v":0.27,"x":-0.163,"y":-0.016},{"v":0.27,"x":-0.153,"y":-0.068},{"v":0.27,"x":-0.124,"y":-0.117},{"v":0.27,"x":-0.061,"y":-0.146},{"v":0.27,"x":-0.021,"y":-0.132},{"v":0.27,"x":0.022,"y":-0.088},{"v":0.27,"x":0.042,"y":-0.04},{"v":0.27,"x":0.044,"y":0.007},
{"v":0.3,"x":-0.03,"y":0.07},{"v":0.3,"x":-0.064,"y":0.09},{"v":0.3,"x":-0.101,"y":0.084},{"v":0.3,"x":-0.13,"y":0.047},{"v":0.3,"x":-0.144,"y":0.001},{"v":0.3,"x":-0.144,"y":-0.016},{"v":0.3,"x":-0.13,"y":-0.074},{"v":0.3,"x":-0.098,"y":-0.109},{"v":0.3,"x":-0.053,"y":-0.125},{"v":0.3,"x":-0.012,"y":-0.112},{"v":0.3,"x":0.025,"y":-0.074},{"v":0.3,"x":0.04,"y":-0.028},{"v":0.3,"x":0.042,"y":0.008},
{"v":0.33,"x":-0.024,"y":0.064},{"v":0.33,"x":-0.055,"y":0.081},{"v":0.33,"x":-0.09,"y":0.073},{"v":0.33,"x":-0.116,"y":0.041},{"v":0.33,"x":-0.127,"y":0.001},{"v":0.33,"x":-0.127,"y":-0.016},{"v":0.33,"x":-0.113,"y":-0.068},{"v":0.33,"x":-0.084,"y":-0.097},{"v":0.33,"x":-0.044,"y":-0.106},{"v":0.33,"x":-0.007,"y":-0.094},{"v":0.33,"x":0.025,"y":-0.06},{"v":0.33,"x":0.037,"y":-0.016},{"v":0.33,"x":0.037,"y":0.009},
{"v":0.36,"x":-0.021,"y":0.061},{"v":0.36,"x":-0.053,"y":0.073},{"v":0.36,"x":-0.081,"y":0.064},{"v":0.36,"x":-0.104,"y":0.038},{"v":0.36,"x":-0.114,"y":0.001},{"v":0.36,"x":-0.114,"y":-0.016},{"v":0.36,"x":-0.1,"y":-0.065},{"v":0.36,"x":-0.075,"y":-0.086},{"v":0.36,"x":-0.04,"y":-0.091},{"v":0.36,"x":-0.004,"y":-0.08},{"v":0.36,"x":0.025,"y":-0.048},{"v":0.36,"x":0.033,"y":0.01},
{"v":0.4,"x":-0.019,"y":0.057},{"v":0.4,"x":-0.047,"y":0.064},{"v":0.4,"x":-0.073,"y":0.056},{"v":0.4,"x":-0.093,"y":0.033},{"v":0.4,"x":-0.101,"y":0},{"v":0.4,"x":-0.101,"y":-0.02},{"v":0.4,"x":-0.09,"y":-0.057},{"v":0.4,"x":-0.067,"y":-0.074},{"v":0.4,"x":-0.035,"y":-0.077},{"v":0.4,"x":-0.001,"y":-0.065},{"v":0.4,"x":0.022,"y":-0.037},{"v":0.4,"x":0.028,"y":0.01},
{"v":0.44,"x":-0.018,"y":0.052},{"v":0.44,"x":-0.044,"y":0.056},{"v":0.44,"x":-0.064,"y":0.048},{"v":0.44,"x":-0.083,"y":0.027},{"v":0.44,"x":-0.091,"y":0.003},{"v":0.44,"x":-0.091,"y":-0.02},{"v":0.44,"x":-0.078,"y":-0.051},{"v":0.44,"x":-0.055,"y":-0.064},{"v":0.44,"x":-0.03,"y":-0.064},{"v":0.44,"x":-0.001,"y":-0.054},{"v":0.44,"x":0.019,"y":-0.028},{"v":0.44,"x":0.025,"y":0.01},
{"v":0.48,"x":-0.015,"y":0.048},{"v":0.48,"x":-0.041,"y":0.048},{"v":0.48,"x":-0.058,"y":0.044},{"v":0.48,"x":-0.074,"y":0.024},{"v":0.48,"x":-0.081,"y":0.003},{"v":0.48,"x":-0.081,"y":-0.02},{"v":0.48,"x":-0.07,"y":-0.04},{"v":0.48,"x":-0.05,"y":-0.054},{"v":0.48,"x":-0.03,"y":-0.054},{"v":0.48,"x":-0.001,"y":-0.045},{"v":0.48,"x":0.017,"y":-0.022},{"v":0.48,"x":0.021,"y":0.012},
{"v":0.53,"x":-0.012,"y":0.045},{"v":0.53,"x":-0.038,"y":0.043},{"v":0.53,"x":-0.05,"y":0.04},{"v":0.53,"x":-0.064,"y":0.021},{"v":0.53,"x":-0.07,"y":0.003},{"v":0.53,"x":-0.061,"y":-0.028},{"v":0.53,"x":-0.044,"y":-0.045},{"v":0.53,"x":-0.03,"y":-0.045},{"v":0.53,"x":-0.001,"y":-0.037},{"v":0.53,"x":0.014,"y":-0.019},{"v":0.53,"x":0.017,"y":0.014},
{"v":0.58,"x":-0.009,"y":0.043},{"v":0.58,"x":-0.032,"y":0.04},{"v":0.58,"x":-0.044,"y":0.035},{"v":0.58,"x":-0.055,"y":0.018},{"v":0.58,"x":-0.061,"y":0.003},{"v":0.58,"x":-0.052,"y":-0.022},{"v":0.58,"x":-0.038,"y":-0.037},{"v":0.58,"x":-0.027,"y":-0.037},{"v":0.58,"x":-0.004,"y":-0.028},{"v":0.58,"x":0.009,"y":-0.014},{"v":0.58,"x":0.012,"y":0.016},
{"v":0.64,"x":-0.007,"y":0.042},{"v":0.64,"x":-0.03,"y":0.036},{"v":0.64,"x":-0.048,"y":0.014},{"v":0.64,"x":-0.05,"y":0},{"v":0.64,"x":-0.042,"y":-0.018},{"v":0.64,"x":-0.028,"y":-0.029},{"v":0.64,"x":-0.006,"y":-0.02},{"v":0.64,"x":0.008,"y":0.018},
{"v":0.72,"x":-0.006,"y":0.04},{"v":0.72,"x":-0.024,"y":0.03},{"v":0.72,"x":-0.038,"y":0.01},{"v":0.72,"x":-0.032,"y":-0.01},{"v":0.72,"x":-0.02,"y":-0.018},{"v":0.72,"x":-0.004,"y":-0.01},{"v":0.72,"x":0.008,"y":0.02}],
"b":[
{"v":-0.17,"x":-0.2,"y":0.698},{"v":-0.17,"x":-0.128,"y":0.547},{"v":-0.17,"x":-0.053,"y":0.365},{"v":-0.17,"x":0.007,"y":0.125},
{"v":-0.165,"x":-0.2,"y":0.6},{"v":-0.165,"x":-0.12,"y":0.45},{"v":-0.165,"x":-0.04,"y":0.28},{"v":-0.165,"x":0.003,"y":0.13},
{"v":-0.175,"x":-0.138,"y":0.7},{"v":-0.175,"x":-0.098,"y":0.55},{"v":-0.175,"x":-0.03,"y":0.37},{"v":-0.175,"x":0.008,"y":0.12},
{"v":-0.14,"x":-0.2,"y":0.523},{"v":-0.14,"x":-0.13,"y":0.4},{"v":-0.14,"x":-0.045,"y":0.25},{"v":-0.14,"x":-0.002,"y":0.125},
{"v":-0.12,"x":-0.2,"y":0.442},{"v":-0.12,"x":-0.12,"y":0.32},{"v":-0.12,"x":-0.05,"y":0.21},{"v":-0.12,"x":-0.005,"y":0.115},
{"v":-0.1,"x":-0.2,"y":0.341},{"v":-0.1,"x":-0.148,"y":0.27},{"v":-0.1,"x":-0.06,"y":0.175},{"v":-0.1,"x":-0.012,"y":0.105},
{"v":-0.08,"x":-0.2,"y":0.26},{"v":-0.08,"x":-0.135,"y":0.237},{"v":-0.08,"x":-0.069,"y":0.178},{"v":-0.08,"x":-0.036,"y":0.129},{"v":-0.08,"x":-0.01,"y":0.09},
{"v":-0.06,"x":-0.2,"y":0.226},{"v":-0.06,"x":-0.15,"y":0.22},{"v":-0.06,"x":-0.085,"y":0.175},{"v":-0.06,"x":-0.036,"y":0.113},{"v":-0.06,"x":-0.012,"y":0.085},
{"v":-0.04,"x":-0.2,"y":0.194},{"v":-0.04,"x":-0.155,"y":0.193},{"v":-0.04,"x":-0.085,"y":0.159},{"v":-0.04,"x":-0.036,"y":0.103},{"v":-0.04,"x":-0.012,"y":0.08},
{"v":-0.02,"x":-0.2,"y":0.16},{"v":-0.02,"x":-0.15,"y":0.171},{"v":-0.02,"x":-0.092,"y":0.157},{"v":-0.02,"x":-0.03,"y":0.1},{"v":-0.02,"x":-0.012,"y":0.078},
{"v":0.1,"x":-0.2,"y":0.129},{"v":0.1,"x":-0.158,"y":0.15},{"v":0.1,"x":-0.102,"y":0.142},{"v":0.1,"x":-0.03,"y":0.093},{"v":0.1,"x":-0.012,"y":0.075},
{"v":0.12,"x":-0.2,"y":0.096},{"v":0.12,"x":-0.168,"y":0.129},{"v":0.12,"x":-0.105,"y":0.135},{"v":0.12,"x":-0.033,"y":0.087},{"v":0.12,"x":-0.015,"y":0.073},
{"v":0.14,"x":-0.2,"y":0.044},{"v":0.14,"x":-0.171,"y":0.103},{"v":0.14,"x":-0.102,"y":0.122},{"v":0.14,"x":-0.033,"y":0.083},{"v":0.14,"x":-0.015,"y":0.072},
{"v":-0.18,"x":-0.068,"y":0.56},{"v":-0.18,"x":-0.02,"y":0.4},{"v":-0.18,"x":0.002,"y":0.2},{"v":-0.18,"x":0.006,"y":0.11},
{"v":-0.2,"x":-0.043,"y":0.56},{"v":-0.2,"x":-0.01,"y":0.4},{"v":-0.2,"x":0.004,"y":0.2},{"v":-0.2,"x":0.007,"y":0.1},
{"v":-0.22,"x":-0.018,"y":0.56},{"v":-0.22,"x":0,"y":0.4},{"v":-0.22,"x":0.006,"y":0.2},{"v":-0.22,"x":0.008,"y":0.09},
{"v":-0.24,"x":0.007,"y":0.56},{"v":-0.24,"x":0.008,"y":0.4},{"v":-0.24,"x":0.008,"y":0.2},{"v":-0.24,"x":0.008,"y":0.08},
{"v":-0.26,"x":0.032,"y":0.56},{"v":-0.26,"x":0.024,"y":0.4},{"v":-0.26,"x":0.012,"y":0.2},{"v":-0.26,"x":0.008,"y":0.07},
{"v":-0.28,"x":0.055,"y":0.56},{"v":-0.28,"x":0.039,"y":0.4},{"v":-0.28,"x":0.018,"y":0.2},{"v":-0.28,"x":0.009,"y":0.065},
{"v":-0.3,"x":0.077,"y":0.56},{"v":-0.3,"x":0.055,"y":0.4},{"v":-0.3,"x":0.025,"y":0.2},{"v":-0.3,"x":0.009,"y":0.06},
{"v":-0.32,"x":0.097,"y":0.56},{"v":-0.32,"x":0.069,"y":0.4},{"v":-0.32,"x":0.031,"y":0.2},{"v":-0.32,"x":0.01,"y":0.058},
{"v":-0.35,"x":0.117,"y":0.56},{"v":-0.35,"x":0.083,"y":0.4},{"v":-0.35,"x":0.037,"y":0.2},{"v":-0.35,"x":0.011,"y":0.058},
{"v":-0.38,"x":0.141,"y":0.56},{"v":-0.38,"x":0.1,"y":0.4},{"v":-0.38,"x":0.045,"y":0.2},{"v":-0.38,"x":0.014,"y":0.06},
{"v":-0.41,"x":0.161,"y":0.56},{"v":-0.41,"x":0.114,"y":0.4},{"v":-0.41,"x":0.052,"y":0.2},{"v":-0.41,"x":0.016,"y":0.062},
{"v":-0.44,"x":0.186,"y":0.56},{"v":-0.44,"x":0.132,"y":0.4},{"v":-0.44,"x":0.06,"y":0.2},{"v":-0.44,"x":0.019,"y":0.064},
{"v":-0.47,"x":0.206,"y":0.56},{"v":-0.47,"x":0.146,"y":0.4},{"v":-0.47,"x":0.066,"y":0.2},{"v":-0.47,"x":0.022,"y":0.065},
{"v":-0.5,"x":0.226,"y":0.56},{"v":-0.5,"x":0.16,"y":0.4},{"v":-0.5,"x":0.072,"y":0.2},{"v":-0.5,"x":0.025,"y":0.067},
{"v":-0.53,"x":0.251,"y":0.56},{"v":-0.53,"x":0.178,"y":0.4},{"v":-0.53,"x":0.08,"y":0.2},{"v":-0.53,"x":0.028,"y":0.068},
{"v":-0.56,"x":0.276,"y":0.56},{"v":-0.56,"x":0.196,"y":0.4},{"v":-0.56,"x":0.088,"y":0.2},{"v":-0.56,"x":0.031,"y":0.07},
{"v":-0.6,"x":0.296,"y":0.56},{"v":-0.6,"x":0.21,"y":0.4},{"v":-0.6,"x":0.095,"y":0.2},{"v":-0.6,"x":0.034,"y":0.07},
{"v":-0.64,"x":0.316,"y":0.56},{"v":-0.64,"x":0.224,"y":0.4},{"v":-0.64,"x":0.101,"y":0.2},{"v":-0.64,"x":0.037,"y":0.071},
{"v":-0.68,"x":0.341,"y":0.56},{"v":-0.68,"x":0.242,"y":0.4},{"v":-0.68,"x":0.109,"y":0.2},{"v":-0.68,"x":0.04,"y":0.072},
{"v":-0.72,"x":0.366,"y":0.56},{"v":-0.72,"x":0.26,"y":0.4},{"v":-0.72,"x":0.117,"y":0.2},{"v":-0.72,"x":0.043,"y":0.073},
{"v":-0.76,"x":0.391,"y":0.56},{"v":-0.76,"x":0.278,"y":0.4},{"v":-0.76,"x":0.125,"y":0.2},{"v":-0.76,"x":0.046,"y":0.073},
{"v":-0.8,"x":0.411,"y":0.56},{"v":-0.8,"x":0.292,"y":0.4},{"v":-0.8,"x":0.132,"y":0.2},{"v":-0.8,"x":0.049,"y":0.074},
{"v":-0.84,"x":0.436,"y":0.56},{"v":-0.84,"x":0.31,"y":0.4},{"v":-0.84,"x":0.14,"y":0.2},{"v":-0.84,"x":0.051,"y":0.075},
{"v":-0.87,"x":0.46,"y":0.56},{"v":-0.87,"x":0.327,"y":0.4},{"v":-0.87,"x":0.148,"y":0.2},{"v":-0.87,"x":0.052,"y":0.075},
{"v":-0.9,"x":0.485,"y":0.56},{"v":-0.9,"x":0.345,"y":0.4},{"v":-0.9,"x":0.155,"y":0.2},{"v":-0.9,"x":0.053,"y":0.075},
{"v":-0.93,"x":0.51,"y":0.56},{"v":-0.93,"x":0.362,"y":0.4},{"v":-0.93,"x":0.163,"y":0.2},{"v":-0.93,"x":0.054,"y":0.075},
{"v":-0.96,"x":0.055,"y":0.076},{"v":-0.96,"x":0.178,"y":0.232},{"v":-0.96,"x":0.54,"y":0.534},{"v":-0.96,"x":0.55,"y":0.526},{"v":-0.96,"x":0.556,"y":0.49},
{"v":-0.99,"x":0.057,"y":0.076},{"v":-0.99,"x":0.178,"y":0.225},{"v":-0.99,"x":0.544,"y":0.515},{"v":-0.99,"x":0.553,"y":0.507},{"v":-0.99,"x":0.558,"y":0.47},
{"v":-1.02,"x":0.059,"y":0.077},{"v":-1.02,"x":0.178,"y":0.217},{"v":-1.02,"x":0.546,"y":0.496},{"v":-1.02,"x":0.555,"y":0.488},{"v":-1.02,"x":0.558,"y":0.45},
{"v":-1.05,"x":0.061,"y":0.077},{"v":-1.05,"x":0.178,"y":0.21},{"v":-1.05,"x":0.548,"y":0.478},{"v":-1.05,"x":0.556,"y":0.47},{"v":-1.05,"x":0.557,"y":0.43},
{"v":-1.08,"x":0.064,"y":0.077},{"v":-1.08,"x":0.178,"y":0.2},{"v":-1.08,"x":0.544,"y":0.458},{"v":-1.08,"x":0.553,"y":0.45},{"v":-1.08,"x":0.556,"y":0.41},
{"v":-1.11,"x":0.068,"y":0.078},{"v":-1.11,"x":0.178,"y":0.192},{"v":-1.11,"x":0.546,"y":0.439},{"v":-1.11,"x":0.554,"y":0.431},{"v":-1.11,"x":0.555,"y":0.39},
{"v":-1.14,"x":0.072,"y":0.078},{"v":-1.14,"x":0.178,"y":0.182},{"v":-1.14,"x":0.546,"y":0.418},{"v":-1.14,"x":0.553,"y":0.41},{"v":-1.14,"x":0.553,"y":0.37},
{"v":-1.17,"x":0.077,"y":0.079},{"v":-1.17,"x":0.178,"y":0.172},{"v":-1.17,"x":0.544,"y":0.395},{"v":-1.17,"x":0.551,"y":0.387},{"v":-1.17,"x":0.551,"y":0.35},
{"v":-1.2,"x":0.083,"y":0.079},{"v":-1.2,"x":0.178,"y":0.163},{"v":-1.2,"x":0.544,"y":0.374},{"v":-1.2,"x":0.549,"y":0.366},{"v":-1.2,"x":0.548,"y":0.33},
{"v":-1.24,"x":0.09,"y":0.08},{"v":-1.24,"x":0.178,"y":0.153},{"v":-1.24,"x":0.542,"y":0.351},{"v":-1.24,"x":0.546,"y":0.343},{"v":-1.24,"x":0.544,"y":0.31},
{"v":-1.28,"x":0.097,"y":0.081},{"v":-1.28,"x":0.178,"y":0.143},{"v":-1.28,"x":0.54,"y":0.328},{"v":-1.28,"x":0.544,"y":0.32},{"v":-1.28,"x":0.541,"y":0.285},
{"v":-1.32,"x":0.105,"y":0.081},{"v":-1.32,"x":0.178,"y":0.131},{"v":-1.32,"x":0.536,"y":0.305},{"v":-1.32,"x":0.54,"y":0.297},{"v":-1.32,"x":0.537,"y":0.265},
{"v":-1.36,"x":0.115,"y":0.082},{"v":-1.36,"x":0.178,"y":0.12},{"v":-1.36,"x":0.531,"y":0.278},{"v":-1.36,"x":0.535,"y":0.27},{"v":-1.36,"x":0.533,"y":0.24},
{"v":-1.4,"x":0.125,"y":0.082},{"v":-1.4,"x":0.178,"y":0.108},{"v":-1.4,"x":0.527,"y":0.251},{"v":-1.4,"x":0.53,"y":0.244},{"v":-1.4,"x":0.527,"y":0.215},
{"v":-1.44,"x":0.14,"y":0.083},{"v":-1.44,"x":0.178,"y":0.099},{"v":-1.44,"x":0.294,"y":0.139},{"v":-1.44,"x":0.425,"y":0.19},{"v":-1.44,"x":0.519,"y":0.225},{"v":-1.44,"x":0.522,"y":0.217},{"v":-1.44,"x":0.518,"y":0.19},
{"v":-1.48,"x":0.2,"y":0.085},{"v":-1.48,"x":0.325,"y":0.133},{"v":-1.48,"x":0.425,"y":0.167},{"v":-1.48,"x":0.515,"y":0.196},{"v":-1.48,"x":0.516,"y":0.17},
{"v":-1.51,"x":0.228,"y":0.083},{"v":-1.51,"x":0.325,"y":0.116},{"v":-1.51,"x":0.425,"y":0.145},{"v":-1.51,"x":0.51,"y":0.165},{"v":-1.51,"x":0.508,"y":0.14},
{"v":-1.54,"x":0.282,"y":0.08},{"v":-1.54,"x":0.363,"y":0.103},{"v":-1.54,"x":0.448,"y":0.122},{"v":-1.54,"x":0.5,"y":0.133},{"v":-1.54,"x":0.503,"y":0.11},
{"v":-1.56,"x":0.348,"y":0.076},{"v":-1.56,"x":0.39,"y":0.082},{"v":-1.56,"x":0.429,"y":0.09},{"v":-1.56,"x":0.471,"y":0.101},{"v":-1.56,"x":0.473,"y":0.094},{"v":-1.56,"x":0.48,"y":0.094},{"v":-1.56,"x":0.49,"y":0.099},
{"v":-1.57,"x":0.43,"y":0.062},{"v":-1.57,"x":0.445,"y":0.068},{"v":-1.57,"x":0.454,"y":0.07},{"v":-1.57,"x":0.456,"y":0.06},
{"v":-0.201,"x":0.542,"y":0.143},{"v":-0.201,"x":0.563,"y":0.146},{"v":-0.201,"x":0.598,"y":0.145},{"v":-0.201,"x":0.636,"y":0.127},{"v":-0.201,"x":0.671,"y":0.085},{"v":-0.201,"x":0.686,"y":0.03},
{"v":-0.191,"x":0.536,"y":0.112},{"v":-0.191,"x":0.563,"y":0.12},{"v":-0.191,"x":0.598,"y":0.122},{"v":-0.191,"x":0.633,"y":0.104},{"v":-0.191,"x":0.663,"y":0.062},{"v":-0.191,"x":0.667,"y":0.036},
{"v":-0.181,"x":0.525,"y":0.1},{"v":-0.181,"x":0.579,"y":0.104},{"v":-0.181,"x":0.61,"y":0.093},{"v":-0.181,"x":0.64,"y":0.062},{"v":-0.181,"x":0.65,"y":0.039},
{"v":-0.171,"x":0.519,"y":0.091},{"v":-0.171,"x":0.579,"y":0.091},{"v":-0.171,"x":0.613,"y":0.074},{"v":-0.171,"x":0.633,"y":0.044},
{"v":-0.161,"x":0.509,"y":0.081},{"v":-0.161,"x":0.525,"y":0.078},{"v":-0.161,"x":0.563,"y":0.078},{"v":-0.161,"x":0.594,"y":0.062},{"v":-0.161,"x":0.613,"y":0.047},
{"v":-0.151,"x":0.505,"y":0.07},{"v":-0.151,"x":0.517,"y":0.066},{"v":-0.151,"x":0.544,"y":0.062},{"v":-0.151,"x":0.556,"y":0.047},
{"v":-0.141,"x":0.502,"y":0.062},{"v":-0.141,"x":0.521,"y":0.059},{"v":-0.141,"x":0.535,"y":0.049},
{"v":-0.131,"x":0.548,"y":0.145},{"v":-0.131,"x":0.579,"y":0.167},{"v":-0.131,"x":0.621,"y":0.171},{"v":-0.131,"x":0.656,"y":0.15},{"v":-0.131,"x":0.69,"y":0.085},{"v":-0.131,"x":0.704,"y":0.03},
{"v":-0.121,"x":0.557,"y":0.184},{"v":-0.121,"x":0.559,"y":0.171},{"v":-0.121,"x":0.571,"y":0.171},{"v":-0.121,"x":0.602,"y":0.207},{"v":-0.121,"x":0.644,"y":0.217},{"v":-0.121,"x":0.675,"y":0.2},{"v":-0.121,"x":0.706,"y":0.123},{"v":-0.121,"x":0.721,"y":0.047},{"v":-0.121,"x":0.723,"y":0.022},
{"v":-0.111,"x":0.569,"y":0.246},{"v":-0.111,"x":0.575,"y":0.219},{"v":-0.111,"x":0.585,"y":0.215},{"v":-0.111,"x":0.602,"y":0.238},{"v":-0.111,"x":0.629,"y":0.31},{"v":-0.111,"x":0.629,"y":0.36},{"v":-0.111,"x":0.623,"y":0.383},{"v":-0.111,"x":0.613,"y":0.385},{"v":-0.111,"x":0.602,"y":0.364},{"v":-0.111,"x":0.592,"y":0.347},{"v":-0.111,"x":0.586,"y":0.36},{"v":-0.111,"x":0.592,"y":0.406},{"v":-0.111,"x":0.6,"y":0.402},{"v":-0.111,"x":0.613,"y":0.44},{"v":-0.111,"x":0.629,"y":0.462},{"v":-0.111,"x":0.671,"y":0.47},{"v":-0.111,"x":0.694,"y":0.49},{"v":-0.111,"x":0.717,"y":0.55},
{"v":-0.101,"x":0.596,"y":0.49},{"v":-0.101,"x":0.604,"y":0.452},{"v":-0.101,"x":0.612,"y":0.475},{"v":-0.101,"x":0.629,"y":0.524},{"v":-0.101,"x":0.658,"y":0.55},
{"v":-0.091,"x":0.602,"y":0.55},{"v":-0.091,"x":0.608,"y":0.528},{"v":-0.091,"x":0.621,"y":0.55},
{"v":-0.081,"x":0.78,"y":0.55},{"v":-0.081,"x":0.745,"y":0.475},{"v":-0.081,"x":0.706,"y":0.353},{"v":-0.081,"x":0.704,"y":0.33},{"v":-0.081,"x":0.714,"y":0.269},{"v":-0.081,"x":0.729,"y":0.2},{"v":-0.081,"x":0.742,"y":0.085},{"v":-0.081,"x":0.742,"y":0.02},
{"v":-0.211,"x":0.596,"y":0.55},{"v":-0.211,"x":0.597,"y":0.45},{"v":-0.211,"x":0.59,"y":0.3},{"v":-0.211,"x":0.56,"y":0.19},{"v":-0.211,"x":0.53,"y":0.12},
{"v":-0.221,"x":0.59,"y":0.55},{"v":-0.221,"x":0.59,"y":0.4},{"v":-0.221,"x":0.585,"y":0.3},{"v":-0.221,"x":0.555,"y":0.2},{"v":-0.221,"x":0.53,"y":0.135},
{"v":-0.231,"x":0.587,"y":0.5},{"v":-0.231,"x":0.585,"y":0.35},{"v":-0.231,"x":0.57,"y":0.27},{"v":-0.231,"x":0.55,"y":0.2},
{"v":-0.071,"x":0.85,"y":0.547},{"v":-0.071,"x":0.8,"y":0.42},{"v":-0.071,"x":0.782,"y":0.337},{"v":-0.071,"x":0.77,"y":0.2},{"v":-0.071,"x":0.767,"y":0.085},{"v":-0.071,"x":0.764,"y":0.015},
{"v":-0.061,"x":0.924,"y":0.547},{"v":-0.061,"x":0.86,"y":0.38},{"v":-0.061,"x":0.82,"y":0.2},{"v":-0.061,"x":0.797,"y":0.08},{"v":-0.061,"x":0.79,"y":0.012},
{"v":-0.051,"x":1.104,"y":0.7},{"v":-0.051,"x":1.031,"y":0.581},{"v":-0.051,"x":1,"y":0.547},{"v":-0.051,"x":0.92,"y":0.35},{"v":-0.051,"x":0.86,"y":0.18},{"v":-0.051,"x":0.829,"y":0.0816},{"v":-0.051,"x":0.817,"y":0.002},
{"v":-0.041,"x":1.116,"y":0.528},{"v":-0.041,"x":1,"y":0.35},{"v":-0.041,"x":0.92,"y":0.2},{"v":-0.041,"x":0.865,"y":0.0816},{"v":-0.041,"x":0.845,"y":-0.004},
{"v":-0.031,"x":1.116,"y":0.379},{"v":-0.031,"x":1.03,"y":0.27},{"v":-0.031,"x":0.95,"y":0.15},{"v":-0.031,"x":0.904,"y":0.0816},{"v":-0.031,"x":0.875,"y":-0.01},
{"v":-0.021,"x":1.116,"y":0.259},{"v":-0.021,"x":1.04,"y":0.18},{"v":-0.021,"x":0.97,"y":0.11},{"v":-0.021,"x":0.948,"y":0.0816},{"v":-0.021,"x":0.913,"y":-0.018},
{"v":-0.011,"x":1.116,"y":0.166},{"v":-0.011,"x":1.06,"y":0.12},{"v":-0.011,"x":1.003,"y":0.0816},{"v":-0.011,"x":0.96,"y":0.027},{"v":-0.011,"x":0.954,"y":0.0075},{"v":-0.011,"x":0.952,"y":-0.021},
{"v":-0.005,"x":1.116,"y":0.089},{"v":-0.005,"x":1.093,"y":0.0816},{"v":-0.005,"x":1.008,"y":0.027},{"v":-0.005,"x":0.998,"y":0.013},{"v":-0.005,"x":0.993,"y":-0.035},
{"v":0.001,"x":1.116,"y":0.027},{"v":0.001,"x":1.086,"y":0.027},{"v":0.001,"x":1.046,"y":0.007},{"v":0.001,"x":1.039,"y":-0.015},{"v":0.001,"x":1.027,"y":-0.038},
{"v":0.002,"x":1.024,"y":-0.044},{"v":0.002,"x":1.036,"y":-0.067},{"v":0.002,"x":1.076,"y":-0.095},{"v":0.002,"x":1.116,"y":-0.101},
{"v":0.003,"x":1,"y":-0.047},{"v":0.003,"x":1.018,"y":-0.095},{"v":0.003,"x":1.046,"y":-0.138},{"v":0.003,"x":1.116,"y":-0.192},
{"v":0.004,"x":0.981,"y":-0.05},{"v":0.004,"x":0.984,"y":-0.09},{"v":0.004,"x":0.994,"y":-0.147},{"v":0.004,"x":1.008,"y":-0.192},{"v":0.004,"x":1.05,"y":-0.27},{"v":0.004,"x":1.116,"y":-0.36},
{"v":0.005,"x":0.957,"y":-0.05},{"v":0.005,"x":0.948,"y":-0.104},{"v":0.005,"x":0.948,"y":-0.192},{"v":0.005,"x":0.955,"y":-0.39},{"v":0.005,"x":0.969,"y":-0.5},
{"v":0.006,"x":0.92,"y":-0.052},{"v":0.006,"x":0.87,"y":-0.293},{"v":0.006,"x":0.82,"y":-0.437},{"v":0.006,"x":0.79,"y":-0.5},
{"v":0.01,"x":0.2,"y":-0.04},{"v":0.01,"x":0.3,"y":-0.06},{"v":0.01,"x":0.336,"y":-0.062},{"v":0.01,"x":0.36,"y":-0.062},{"v":0.01,"x":0.375,"y":-0.055},{"v":0.01,"x":0.39,"y":-0.063},{"v":0.01,"x":0.41,"y":-0.064},{"v":0.01,"x":0.43,"y":-0.06},{"v":0.01,"x":0.46,"y":-0.055},
{"v":0.015,"x":0.16,"y":-0.032},{"v":0.015,"x":0.25,"y":-0.075},{"v":0.015,"x":0.36,"y":-0.098},{"v":0.015,"x":0.426,"y":-0.109},{"v":0.015,"x":0.46,"y":-0.105},{"v":0.015,"x":0.49,"y":-0.095},{"v":0.015,"x":0.515,"y":-0.076},{"v":0.015,"x":0.535,"y":-0.067},{"v":0.015,"x":0.57,"y":-0.071},{"v":0.015,"x":0.571,"y":-0.056},
{"v":0.02,"x":0.14,"y":-0.028},{"v":0.02,"x":0.24,"y":-0.09},{"v":0.02,"x":0.34,"y":-0.145},{"v":0.02,"x":0.456,"y":-0.163},{"v":0.02,"x":0.51,"y":-0.15},{"v":0.02,"x":0.585,"y":-0.125},{"v":0.02,"x":0.665,"y":-0.057},
{"v":0.025,"x":0.125,"y":-0.024},{"v":0.025,"x":0.2,"y":-0.09},{"v":0.025,"x":0.3,"y":-0.175},{"v":0.025,"x":0.41,"y":-0.212},{"v":0.025,"x":0.49,"y":-0.229},{"v":0.025,"x":0.55,"y":-0.214},{"v":0.025,"x":0.625,"y":-0.178},{"v":0.025,"x":0.745,"y":-0.057},
{"v":0.03,"x":0.11,"y":-0.02},{"v":0.03,"x":0.18,"y":-0.1},{"v":0.03,"x":0.27,"y":-0.21},{"v":0.03,"x":0.38,"y":-0.29},{"v":0.03,"x":0.52,"y":-0.317},{"v":0.03,"x":0.6,"y":-0.29},{"v":0.03,"x":0.75,"y":-0.168},{"v":0.03,"x":0.82,"y":-0.052},
{"v":0.035,"x":0.1,"y":-0.017},{"v":0.035,"x":0.16,"y":-0.11},{"v":0.035,"x":0.25,"y":-0.27},{"v":0.035,"x":0.38,"y":-0.4},{"v":0.035,"x":0.56,"y":-0.434},{"v":0.035,"x":0.675,"y":-0.39},{"v":0.035,"x":0.785,"y":-0.278},{"v":0.035,"x":0.87,"y":-0.052},
{"v":0.04,"x":0.396,"y":-0.5},{"v":0.04,"x":0.29,"y":-0.34},{"v":0.04,"x":0.17,"y":-0.15},{"v":0.04,"x":0.09,"y":-0.015},
{"v":0.045,"x":0.296,"y":-0.5},{"v":0.045,"x":0.24,"y":-0.34},{"v":0.045,"x":0.14,"y":-0.08},{"v":0.045,"x":0.08,"y":-0.012},
{"v":0.05,"x":0.221,"y":-0.5},{"v":0.05,"x":0.19,"y":-0.34},{"v":0.05,"x":0.12,"y":-0.1},{"v":0.05,"x":0.075,"y":-0.01},
{"v":0.055,"x":0.156,"y":-0.5},{"v":0.055,"x":0.155,"y":-0.3},{"v":0.055,"x":0.11,"y":-0.1},{"v":0.055,"x":0.07,"y":-0.008},
{"v":0.06,"x":0.082,"y":-0.5},{"v":0.06,"x":0.115,"y":-0.3},{"v":0.06,"x":0.095,"y":-0.1},{"v":0.06,"x":0.065,"y":-0.005},
{"v":0.065,"x":0.002,"y":-0.5},{"v":0.065,"x":0.06,"y":-0.39},{"v":0.065,"x":0.09,"y":-0.24},{"v":0.065,"x":0.085,"y":-0.1},{"v":0.065,"x":0.062,"y":-0.003},
{"v":0.16,"x":-0.2,"y":-0.469},{"v":0.16,"x":-0.153,"y":-0.474},{"v":0.16,"x":-0.083,"y":-0.447},{"v":0.16,"x":0.007,"y":-0.36},{"v":0.16,"x":0.065,"y":-0.196},{"v":0.16,"x":0.08,"y":-0.1},{"v":0.16,"x":0.06,"y":-0.002},
{"v":0.18,"x":-0.2,"y":-0.368},{"v":0.18,"x":-0.128,"y":-0.38},{"v":0.18,"x":-0.013,"y":-0.336},{"v":0.18,"x":0.055,"y":-0.197},{"v":0.18,"x":0.072,"y":-0.1},{"v":0.18,"x":0.057,"y":0},
{"v":0.2,"x":-0.2,"y":-0.281},{"v":0.2,"x":-0.103,"y":-0.312},{"v":0.2,"x":-0.023,"y":-0.278},{"v":0.2,"x":0.045,"y":-0.158},{"v":0.2,"x":0.063,"y":-0.08},{"v":0.2,"x":0.054,"y":0.001},
{"v":0.22,"x":-0.2,"y":-0.216},{"v":0.22,"x":-0.088,"y":-0.262},{"v":0.22,"x":-0.033,"y":-0.235},{"v":0.22,"x":0.04,"y":-0.124},{"v":0.22,"x":0.058,"y":-0.05},{"v":0.22,"x":0.051,"y":0.002},
{"v":0.23,"x":-0.2,"y":-0.124},{"v":0.23,"x":-0.075,"y":-0.219},{"v":0.23,"x":-0.02,"y":-0.195},{"v":0.23,"x":0.035,"y":-0.115},{"v":0.23,"x":0.053,"y":-0.04},{"v":0.23,"x":0.048,"y":0.004},
{"v":0.24,"x":-0.012,"y":0.07},{"v":0.24,"x":-0.033,"y":0.078},{"v":0.24,"x":-0.102,"y":0.11},{"v":0.24,"x":-0.145,"y":0.086},{"v":0.24,"x":-0.175,"y":0.041},{"v":0.24,"x":-0.188,"y":-0.031},{"v":0.24,"x":-0.175,"y":-0.09},{"v":0.24,"x":-0.135,"y":-0.172},{"v":0.24,"x":-0.085,"y":-0.22},{"v":0.24,"x":-0.016,"y":-0.192},{"v":0.24,"x":0.043,"y":-0.074},{"v":0.24,"x":0.045,"y":0.006},
{"v":0.27,"x":-0.012,"y":0.068},{"v":0.27,"x":-0.036,"y":0.07},{"v":0.27,"x":-0.1,"y":0.098},{"v":0.27,"x":-0.14,"y":0.07},{"v":0.27,"x":-0.165,"y":-0.015},{"v":0.27,"x":-0.155,"y":-0.08},{"v":0.27,"x":-0.115,"y":-0.16},{"v":0.27,"x":-0.072,"y":-0.187},{"v":0.27,"x":-0.01,"y":-0.165},{"v":0.27,"x":0.035,"y":-0.065},{"v":0.27,"x":0.04,"y":0.008},
{"v":0.3,"x":-0.012,"y":0.066},{"v":0.3,"x":-0.04,"y":0.066},{"v":0.3,"x":-0.09,"y":0.08},{"v":0.3,"x":-0.125,"y":0.05},{"v":0.3,"x":-0.147,"y":-0.02},{"v":0.3,"x":-0.135,"y":-0.08},{"v":0.3,"x":-0.1,"y":-0.135},{"v":0.3,"x":-0.059,"y":-0.159},{"v":0.3,"x":-0.01,"y":-0.14},{"v":0.3,"x":0.03,"y":-0.055},{"v":0.3,"x":0.035,"y":0.01},
{"v":0.33,"x":-0.012,"y":0.064},{"v":0.33,"x":-0.04,"y":0.06},{"v":0.33,"x":-0.085,"y":0.068},{"v":0.33,"x":-0.115,"y":0.035},{"v":0.33,"x":-0.132,"y":-0.02},{"v":0.33,"x":-0.12,"y":-0.08},{"v":0.33,"x":-0.09,"y":-0.12},{"v":0.33,"x":-0.056,"y":-0.136},{"v":0.33,"x":-0.01,"y":-0.12},{"v":0.33,"x":0.028,"y":-0.045},{"v":0.33,"x":0.03,"y":0.012},
{"v":0.36,"x":-0.013,"y":0.062},{"v":0.36,"x":-0.04,"y":0.056},{"v":0.36,"x":-0.08,"y":0.056},{"v":0.36,"x":-0.105,"y":0.025},{"v":0.36,"x":-0.117,"y":-0.02},{"v":0.36,"x":-0.105,"y":-0.07},{"v":0.36,"x":-0.08,"y":-0.105},{"v":0.36,"x":-0.043,"y":-0.115},{"v":0.36,"x":-0.005,"y":-0.1},{"v":0.36,"x":0.025,"y":-0.04},{"v":0.36,"x":0.026,"y":0.013},
{"v":0.4,"x":-0.013,"y":0.06},{"v":0.4,"x":-0.042,"y":0.05},{"v":0.4,"x":-0.07,"y":0.048},{"v":0.4,"x":-0.092,"y":0.02},{"v":0.4,"x":-0.104,"y":-0.02},{"v":0.4,"x":-0.09,"y":-0.065},{"v":0.4,"x":-0.07,"y":-0.09},{"v":0.4,"x":-0.039,"y":-0.098},{"v":0.4,"x":-0.002,"y":-0.085},{"v":0.4,"x":0.022,"y":-0.035},{"v":0.4,"x":0.023,"y":0.014},
{"v":0.44,"x":-0.014,"y":0.058},{"v":0.44,"x":-0.045,"y":0.048},{"v":0.44,"x":-0.07,"y":0.04},{"v":0.44,"x":-0.085,"y":0.015},{"v":0.44,"x":-0.094,"y":-0.02},{"v":0.44,"x":-0.08,"y":-0.06},{"v":0.44,"x":-0.06,"y":-0.078},{"v":0.44,"x":-0.036,"y":-0.084},{"v":0.44,"x":0,"y":-0.075},{"v":0.44,"x":0.02,"y":-0.03},{"v":0.44,"x":0.02,"y":0.015},
{"v":0.48,"x":-0.015,"y":0.056},{"v":0.48,"x":-0.045,"y":0.043},{"v":0.48,"x":-0.065,"y":0.032},{"v":0.48,"x":-0.075,"y":0.01},{"v":0.48,"x":-0.082,"y":-0.02},{"v":0.48,"x":-0.07,"y":-0.05},{"v":0.48,"x":-0.052,"y":-0.068},{"v":0.48,"x":-0.036,"y":-0.072},{"v":0.48,"x":-0.002,"y":-0.064},{"v":0.48,"x":0.017,"y":-0.025},{"v":0.48,"x":0.017,"y":0.016},
{"v":0.53,"x":-0.016,"y":0.054},{"v":0.53,"x":-0.045,"y":0.038},{"v":0.53,"x":-0.06,"y":0.025},{"v":0.53,"x":-0.07,"y":-0.02},{"v":0.53,"x":-0.06,"y":-0.042},{"v":0.53,"x":-0.045,"y":-0.058},{"v":0.53,"x":-0.029,"y":-0.061},{"v":0.53,"x":-0.002,"y":-0.053},{"v":0.53,"x":0.014,"y":-0.02},{"v":0.53,"x":0.014,"y":0.017},
{"v":0.58,"x":-0.017,"y":0.052},{"v":0.58,"x":-0.04,"y":0.036},{"v":0.58,"x":-0.055,"y":0.018},{"v":0.58,"x":-0.062,"y":-0.02},{"v":0.58,"x":-0.05,"y":-0.04},{"v":0.58,"x":-0.029,"y":-0.051},{"v":0.58,"x":-0.002,"y":-0.043},{"v":0.58,"x":0.012,"y":-0.015},{"v":0.58,"x":0.012,"y":0.018},
{"v":0.64,"x":-0.018,"y":0.05},{"v":0.64,"x":-0.04,"y":0.03},{"v":0.64,"x":-0.048,"y":0.01},{"v":0.64,"x":-0.052,"y":-0.018},{"v":0.64,"x":-0.04,"y":-0.035},{"v":0.64,"x":-0.02,"y":-0.043},{"v":0.64,"x":0,"y":-0.035},{"v":0.64,"x":0.01,"y":-0.012},{"v":0.64,"x":0.01,"y":0.02},
{"v":0.72,"x":-0.018,"y":0.048},{"v":0.72,"x":-0.036,"y":0.028},{"v":0.72,"x":-0.042,"y":-0.015},{"v":0.72,"x":-0.03,"y":-0.03},{"v":0.72,"x":-0.016,"y":-0.035},{"v":0.72,"x":0,"y":-0.03},{"v":0.72,"x":0.008,"y":-0.01},{"v":0.72,"x":0.008,"y":0.02},
{"v":0.0075,"x":0.6095,"y":-0.104},{"v":0.0075,"x":0.644,"y":-0.081},{"v":0.0075,"x":0.666,"y":-0.058},
{"v":0.008,"x":0.6095,"y":-0.189},{"v":0.008,"x":0.688,"y":-0.129},{"v":0.008,"x":0.718,"y":-0.092},{"v":0.008,"x":0.747,"y":-0.058}]
},
"hconcat":[
{"width":1527,"height":1398,
"encoding":{"x":{"field":"x","type":"quantitative","scale":{"domain":[-0.2,1.116],"nice":false,"zero":false},"axis":null},"y":{"field":"y","type":"quantitative","scale":{"domain":[-0.6,0.60865],"nice":false,"zero":false},"axis":null}},
"resolve":{"axis":{"x":"independent","y":"independent"}},
"layer":[
{"data":{"name":"a"},"mark":{"type":"line","order":false,"clip":true,"strokeWidth":1.9,"interpolate":"catmull-rom"},
"encoding":{"x":{"field":"x","type":"quantitative","scale":{"domain":[-0.2,1.116],"nice":false,"zero":false},"axis":{"orient":"bottom","title":"x/c","values":[-0.2,0,0.2,0.4,0.6,0.8,1],"labelExpr":"'' + datum.value","tickSize":-35,"tickWidth":5,"labelPadding":21,"domainWidth":6,"titleY":151,"titleBaseline":"alphabetic"}},"y":{"field":"y","type":"quantitative","scale":{"domain":[-0.6,0.60865],"nice":false,"zero":false},"axis":{"orient":"left","title":"y/c","values":[-0.6,-0.3,0,0.3,0.6],"labelExpr":"'' + datum.value","tickSize":-35,"tickWidth":6,"labelPadding":24,"domain":false,"titleX":-150,"titleY":704,"titleBaseline":"middle"}},"detail":{"field":"v"},"color":{"field":"v","type":"quantitative","scale":{"domain":[-1.6,-0.9,-0.2,0.5,1.2],"range":["#0000ff","#00ffff","#00ff00","#ffff00","#ff0000"]},"legend":null}}},
{"data":{"name":"shockA"},"mark":{"type":"line","order":false,"clip":true,"strokeWidth":5,"interpolate":"catmull-rom"},
"encoding":{"x":{"field":"x","type":"quantitative","scale":{"domain":[-0.2,1.116],"nice":false,"zero":false},"axis":{"orient":"bottom","title":null,"values":[-0.16,-0.12,-0.08,-0.04,0.04,0.08,0.12,0.16,0.24,0.28,0.32,0.36,0.44,0.48,0.52,0.56,0.64,0.68,0.72,0.76,0.84,0.88,0.92,0.96,1.04,1.08],"labels":false,"domain":false,"tickSize":-20,"tickWidth":2,"tickColor":"#444444"}},"y":{"field":"y","type":"quantitative","scale":{"domain":[-0.6,0.60865],"nice":false,"zero":false},"axis":{"orient":"left","title":null,"values":[-0.54,-0.48,-0.42,-0.36,-0.24,-0.18,-0.12,-0.06,0.06,0.12,0.18,0.24,0.36,0.42,0.48,0.54],"labels":false,"domain":false,"tickSize":-20,"tickWidth":2}},"detail":{"field":"v"},"color":{"field":"v","type":"quantitative","scale":{"domain":[-1.6,-0.9,-0.2,0.5,1.2],"range":["#0000ff","#00ffff","#00ff00","#ffff00","#ff0000"]},"legend":null}}},
{"data":{"name":"airfoilA"},"mark":{"type":"area","fill":"white","stroke":"black","strokeWidth":6},"encoding":{"y2":{"field":"y2"}}},
{"data":{"name":"bandA"},"mark":{"type":"area","color":"black"},"encoding":{"y2":{"field":"y2"}}},
{"data":{"values":[{"x":-0.2,"y":-0.6,"y2":0.6}]},"mark":{"type":"rule","strokeWidth":5,"color":"black"},"encoding":{"y2":{"field":"y2"}}},
{"data":{"name":"shaftA"},"mark":{"type":"line","order":false,"color":"#e8504b","strokeWidth":13},"encoding":{"detail":{"field":"v"}}},
{"data":{"name":"headA"},"mark":{"type":"point","shape":"triangle-up","filled":true,"opacity":1,"size":2200,"color":"#e8504b"},"encoding":{"angle":{"field":"a","type":"quantitative","scale":null}}},
{"data":{"values":[{"x":0.2177,"y":0.0173,"t":"Separation Zone"}]},"mark":{"type":"text","font":"Liberation Serif","fontWeight":"bold","fontSize":50,"color":"black"},"encoding":{"text":{"field":"t"}}},
{"data":{"values":[{"x":-0.1284,"x2":1.0319,"y":0.4478,"y2":0.6}]},"mark":{"type":"rect","fill":"white","stroke":"black","strokeWidth":3},"encoding":{"x2":{"field":"x2"},"y2":{"field":"y2"}}},
{"data":{"values":[{"x":0.0629,"x2":0.952,"y":0.516,"y2":0.587}]},"mark":{"type":"rect","stroke":"black","strokeWidth":2,"fill":{"x1":0,"y1":0,"x2":1,"y2":0,"gradient":"linear","stops":[{"offset":0,"color":"#0000ff"},{"offset":0.25,"color":"#00ffff"},{"offset":0.5,"color":"#00ff00"},{"offset":0.75,"color":"#ffff00"},{"offset":1,"color":"#ff0000"}]}},"encoding":{"x2":{"field":"x2"},"y2":{"field":"y2"}}},
{"data":{"values":[{"x":0.158,"y":0.516,"y2":0.587},{"x":0.2466,"y":0.516,"y2":0.587},{"x":0.3345,"y":0.516,"y2":0.587},{"x":0.4233,"y":0.516,"y2":0.587},{"x":0.5129,"y":0.516,"y2":0.587},{"x":0.6026,"y":0.516,"y2":0.587},{"x":0.6897,"y":0.516,"y2":0.587},{"x":0.7793,"y":0.516,"y2":0.587},{"x":0.869,"y":0.516,"y2":0.587}]},"mark":{"type":"rule","color":"black","opacity":0.55,"strokeWidth":2},"encoding":{"y2":{"field":"y2"}}},
{"data":{"name":"legendA"},"mark":{"type":"text","font":"Liberation Serif","fontWeight":"bold","fontSize":52,"color":"black"},"encoding":{"text":{"field":"t"}}},
{"data":{"values":[{"x":0.37,"y":-0.808,"t":"(a)"}]},"mark":{"type":"text","font":"Liberation Serif","fontSize":80,"color":"black"},"encoding":{"text":{"field":"t"}}}
]},
{"width":1527,"height":1403,
"encoding":{"x":{"field":"x","type":"quantitative","scale":{"domain":[-0.2,1.116],"nice":false,"zero":false},"axis":null},"y":{"field":"y","type":"quantitative","scale":{"domain":[-0.5,0.7],"nice":false,"zero":false},"axis":null}},
"resolve":{"axis":{"x":"independent","y":"independent"}},
"layer":[
{"data":{"name":"b"},"mark":{"type":"line","order":false,"clip":true,"strokeWidth":1.9,"interpolate":"catmull-rom"},
"encoding":{"x":{"field":"x","type":"quantitative","scale":{"domain":[-0.2,1.116],"nice":false,"zero":false},"axis":{"orient":"bottom","title":"x/c","values":[-0.2,0,0.2,0.4,0.6,0.8,1],"labelExpr":"'' + datum.value","tickSize":-35,"tickWidth":5,"labelPadding":21,"domainWidth":6,"titleY":152,"titleBaseline":"alphabetic"}},"y":{"field":"y","type":"quantitative","scale":{"domain":[-0.5,0.7],"nice":false,"zero":false},"axis":{"orient":"left","title":"y/c","values":[-0.5,-0.2,0.1,0.4,0.7],"labelExpr":"'' + datum.value","tickSize":-35,"tickWidth":6,"labelPadding":24,"domain":false,"titleX":-190,"titleY":701,"titleBaseline":"middle"}},"detail":{"field":"v"},"color":{"field":"v","type":"quantitative","scale":{"domain":[-1.6,-0.9,-0.2,0.5,1.2],"range":["#0000ff","#00ffff","#00ff00","#ffff00","#ff0000"]},"legend":null}}},
{"data":{"name":"shockB"},"mark":{"type":"line","order":false,"clip":true,"strokeWidth":5,"interpolate":"catmull-rom"},
"encoding":{"x":{"field":"x","type":"quantitative","scale":{"domain":[-0.2,1.116],"nice":false,"zero":false},"axis":{"orient":"bottom","title":null,"values":[-0.16,-0.12,-0.08,-0.04,0.04,0.08,0.12,0.16,0.24,0.28,0.32,0.36,0.44,0.48,0.52,0.56,0.64,0.68,0.72,0.76,0.84,0.88,0.92,0.96,1.04,1.08],"labels":false,"domain":false,"tickSize":-20,"tickWidth":2,"tickColor":"#444444"}},"y":{"field":"y","type":"quantitative","scale":{"domain":[-0.5,0.7],"nice":false,"zero":false},"axis":{"orient":"left","title":null,"values":[-0.44,-0.38,-0.32,-0.26,-0.14,-0.08,-0.02,0.04,0.16,0.22,0.28,0.34,0.46,0.52,0.58,0.64],"labels":false,"domain":false,"tickSize":-20,"tickWidth":2}},"detail":{"field":"v"},"color":{"field":"v","type":"quantitative","scale":{"domain":[-1.6,-0.9,-0.2,0.5,1.2],"range":["#0000ff","#00ffff","#00ff00","#ffff00","#ff0000"]},"legend":null}}},
{"data":{"name":"airfoilB"},"mark":{"type":"area","fill":"white","stroke":"black","strokeWidth":6},"encoding":{"y2":{"field":"y2"}}},
{"data":{"name":"bandB"},"mark":{"type":"area","color":"black"},"encoding":{"y2":{"field":"y2"}}},
{"data":{"name":"wakeB"},"mark":{"type":"line","order":false,"color":"black","strokeWidth":3,"clip":true}},
{"data":{"values":[{"x":-0.2,"y":-0.5,"y2":0.7}]},"mark":{"type":"rule","strokeWidth":5,"color":"black"},"encoding":{"y2":{"field":"y2"}}},
{"data":{"name":"shaftB"},"mark":{"type":"line","order":false,"color":"#e8504b","strokeWidth":13},"encoding":{"detail":{"field":"v"}}},
{"data":{"name":"headB"},"mark":{"type":"point","shape":"triangle-up","filled":true,"opacity":1,"size":2200,"color":"#e8504b"},"encoding":{"angle":{"field":"a","type":"quantitative","scale":null}}},
{"data":{"values":[{"x":0.198,"y":0.0243,"t":"Separation Zone"}]},"mark":{"type":"text","font":"Liberation Serif","fontWeight":"bold","fontSize":50,"color":"black"},"encoding":{"text":{"field":"t"}}},
{"data":{"values":[{"x":-0.13,"x2":1.031,"y":0.548,"y2":0.7}]},"mark":{"type":"rect","fill":"white","stroke":"black","strokeWidth":3},"encoding":{"x2":{"field":"x2"},"y2":{"field":"y2"}}},
{"data":{"values":[{"x":0.062,"x2":0.949,"y":0.617,"y2":0.6872}]},"mark":{"type":"rect","stroke":"black","strokeWidth":2,"fill":{"x1":0,"y1":0,"x2":1,"y2":0,"gradient":"linear","stops":[{"offset":0,"color":"#0000ff"},{"offset":0.25,"color":"#00ffff"},{"offset":0.5,"color":"#00ff00"},{"offset":0.75,"color":"#ffff00"},{"offset":1,"color":"#ff0000"}]}},"encoding":{"x2":{"field":"x2"},"y2":{"field":"y2"}}},
{"data":{"values":[{"x":0.155,"y":0.617,"y2":0.6872},{"x":0.245,"y":0.617,"y2":0.6872},{"x":0.332,"y":0.617,"y2":0.6872},{"x":0.4216,"y":0.617,"y2":0.6872},{"x":0.511,"y":0.617,"y2":0.6872},{"x":0.601,"y":0.617,"y2":0.6872},{"x":0.688,"y":0.617,"y2":0.6872},{"x":0.7776,"y":0.617,"y2":0.6872},{"x":0.867,"y":0.617,"y2":0.6872}]},"mark":{"type":"rule","color":"black","opacity":0.55,"strokeWidth":2},"encoding":{"y2":{"field":"y2"}}},
{"data":{"name":"legendB"},"mark":{"type":"text","font":"Liberation Serif","fontWeight":"bold","fontSize":52,"color":"black"},"encoding":{"text":{"field":"t"}}},
{"data":{"values":[{"x":0.364,"y":-0.701,"t":"(b)"}]},"mark":{"type":"text","font":"Liberation Serif","fontSize":80,"color":"black"},"encoding":{"text":{"field":"t"}}}
]}
]}
